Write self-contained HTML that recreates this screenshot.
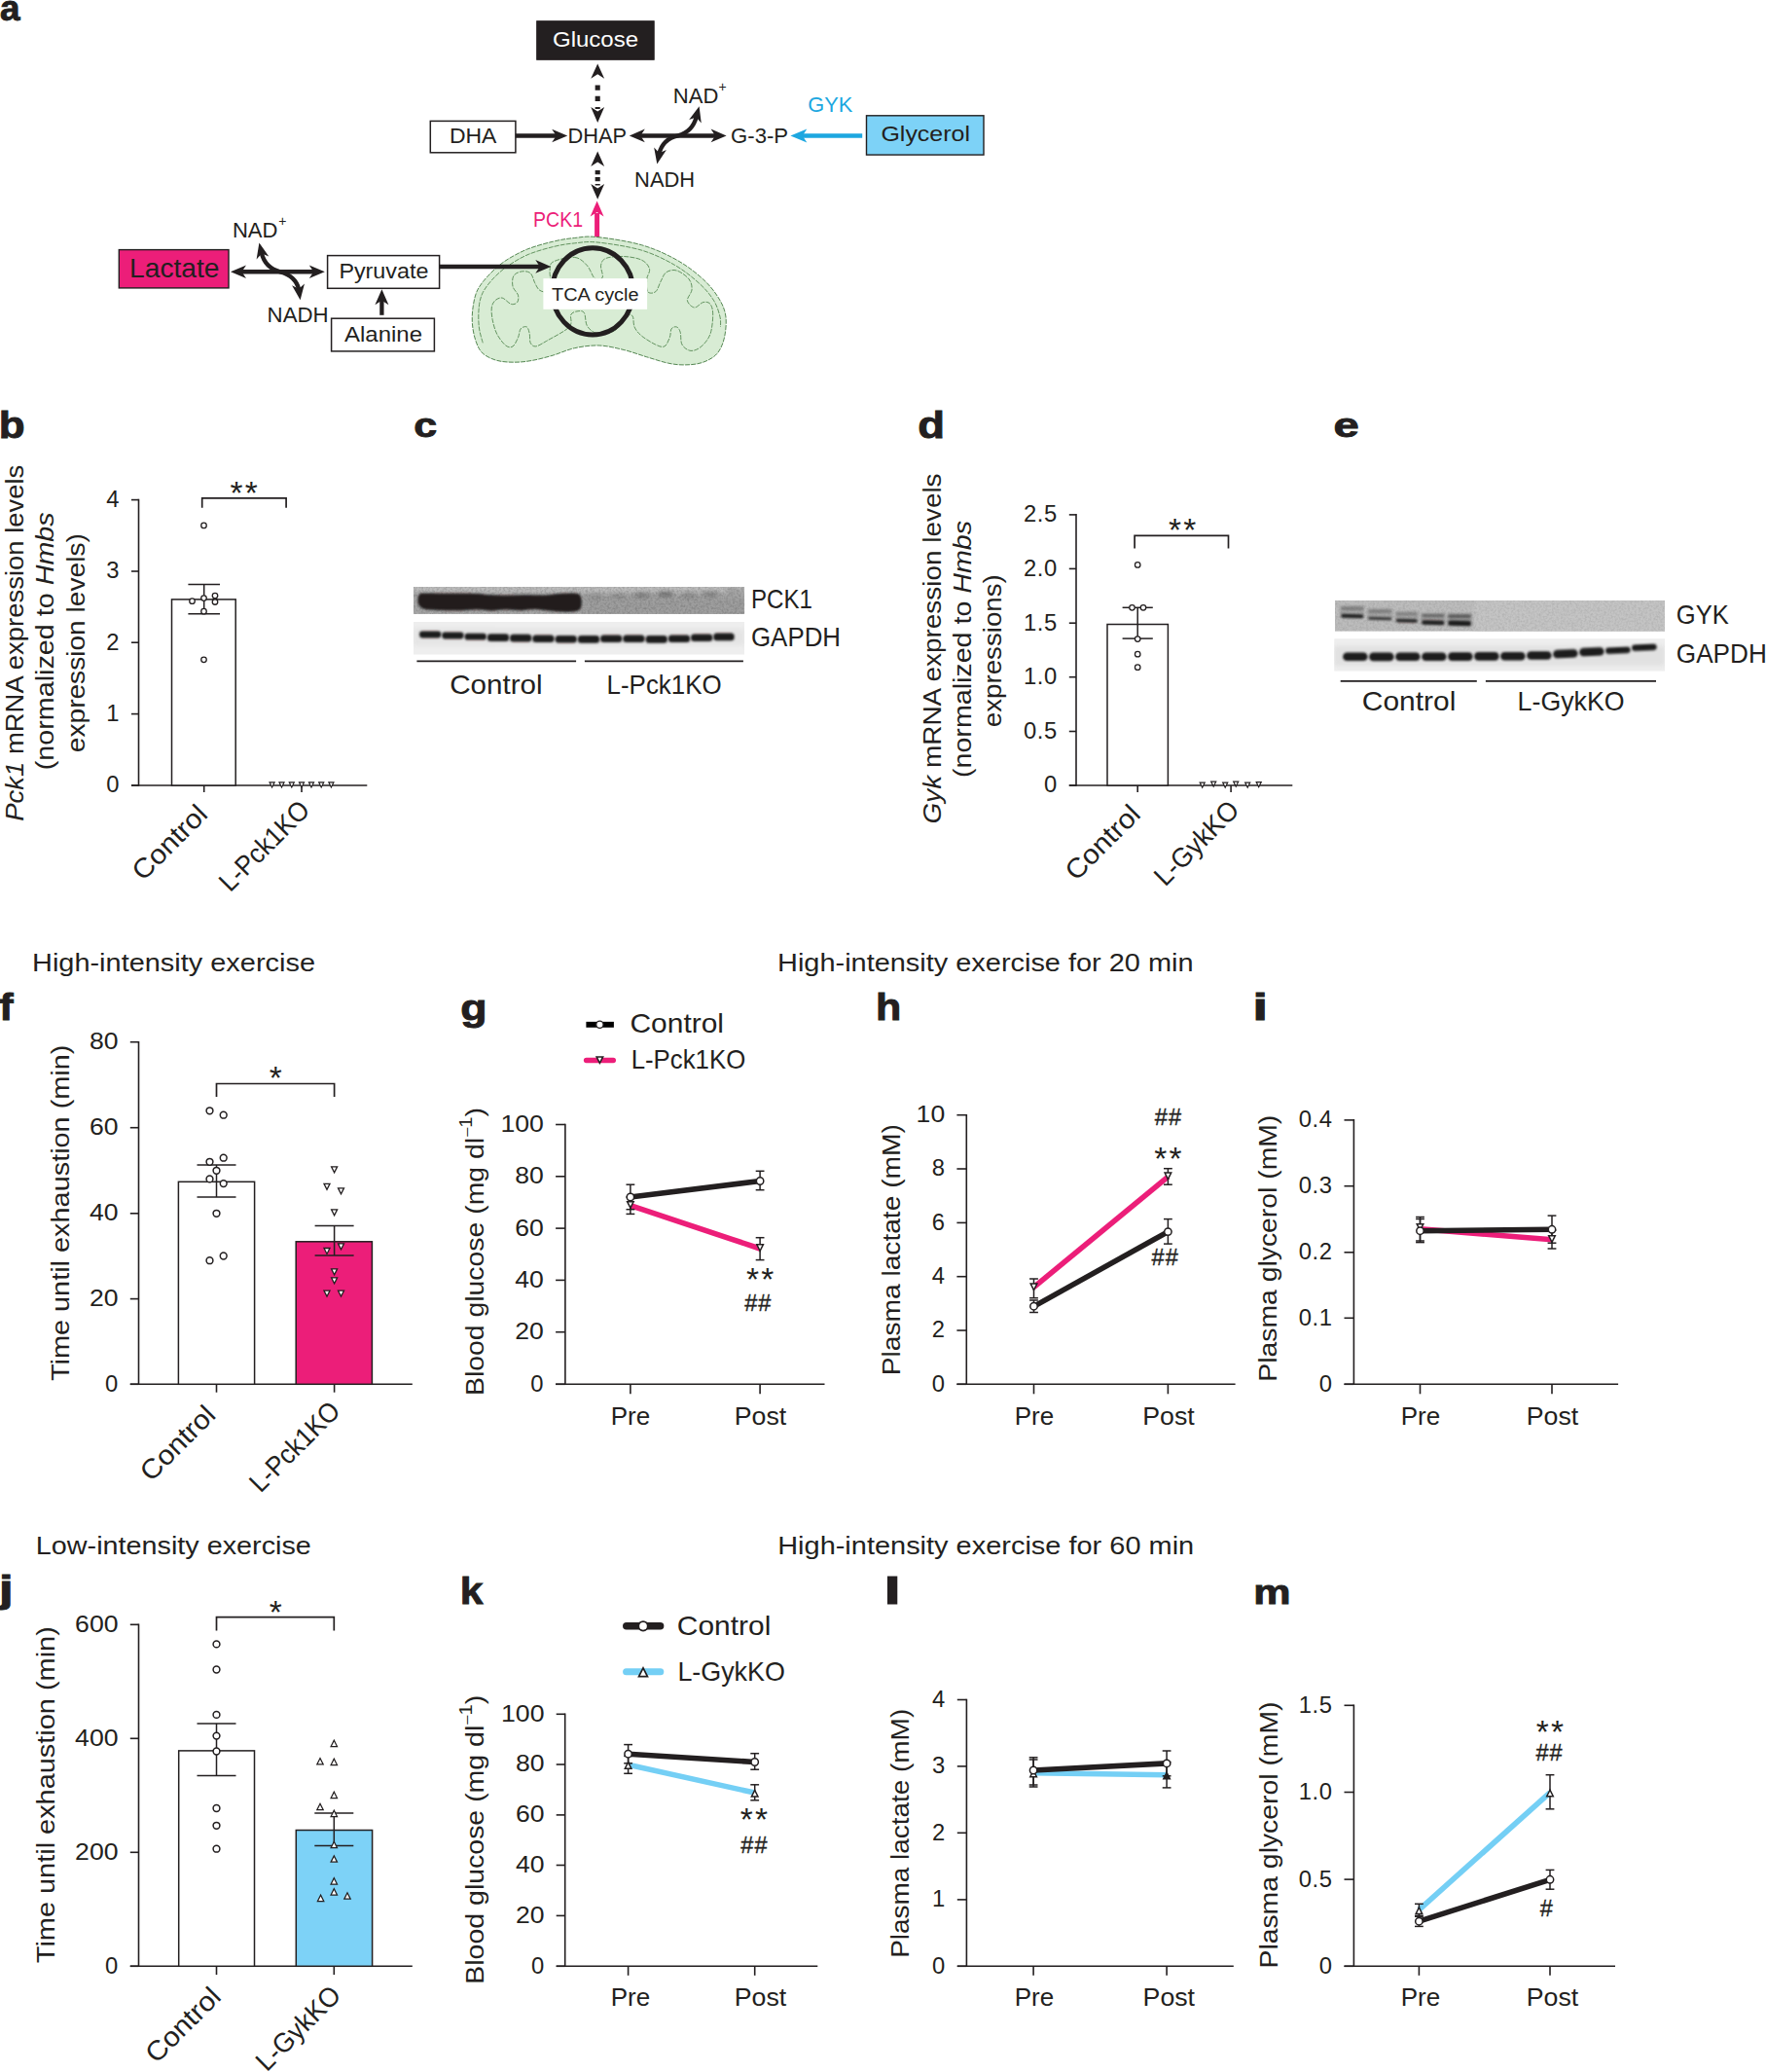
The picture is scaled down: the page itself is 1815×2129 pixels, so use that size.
<!DOCTYPE html>
<html lang="en"><head><meta charset="utf-8"><title>Figure</title>
<style>
html,body{margin:0;padding:0;background:#fff;}
body{width:1815px;height:2129px;overflow:hidden;}
svg{display:block;font-family:'Liberation Sans', Arial, Helvetica, sans-serif;}
</style></head><body>
<svg width="1815" height="2129" viewBox="0 0 1815 2129">
<defs>
<filter id="b1" x="-10%" y="-50%" width="120%" height="200%"><feGaussianBlur stdDeviation="1.2"/></filter>
<filter id="b2" x="-10%" y="-50%" width="120%" height="200%"><feGaussianBlur stdDeviation="2.2"/></filter>
<filter id="b3" x="-10%" y="-50%" width="120%" height="200%"><feGaussianBlur stdDeviation="0.8"/></filter>
<filter id="noise" x="0" y="0" width="100%" height="100%"><feTurbulence type="fractalNoise" baseFrequency="0.45" numOctaves="2" seed="3" result="n"/><feColorMatrix type="matrix" values="0 0 0 0 0  0 0 0 0 0  0 0 0 0 0  0.6 0 0 0 -0.22"/></filter>
<clipPath id="cp1"><rect x="424.9" y="602.9" width="340.3" height="28"/></clipPath>
<clipPath id="cp2"><rect x="424.9" y="639.1" width="340.3" height="33.6"/></clipPath>
<clipPath id="cp3"><rect x="1372" y="617" width="339" height="31.7"/></clipPath>
<clipPath id="cp4"><rect x="1371.2" y="656.2" width="339.8" height="33.5"/></clipPath>
</defs>
<rect width="1815" height="2129" fill="#fff"/>
<text transform="translate(0.08 21.20) scale(1.024 1)" font-size="36" font-weight="bold" fill="#231f20" stroke="#231f20" stroke-width="0.9">a</text>
<rect x="551.70" y="21.70" width="120.50" height="39.60" fill="#231f20" stroke="#231f20" stroke-width="1"/>
<text x="612.00" y="48.30" font-size="22.5" fill="#fff" text-anchor="middle" textLength="88.0" lengthAdjust="spacingAndGlyphs">Glucose</text>
<rect x="442.30" y="124.40" width="87.60" height="32.40" fill="#fff" stroke="#231f20" stroke-width="1.5"/>
<text x="486.20" y="146.80" font-size="22.5" fill="#231f20" text-anchor="middle" textLength="48.5" lengthAdjust="spacingAndGlyphs">DHA</text>
<text x="613.80" y="146.80" font-size="22.5" fill="#231f20" text-anchor="middle" textLength="60.5" lengthAdjust="spacingAndGlyphs">DHAP</text>
<text x="780.60" y="146.80" font-size="22.5" fill="#231f20" text-anchor="middle" textLength="59.0" lengthAdjust="spacingAndGlyphs">G-3-P</text>
<rect x="890.50" y="118.80" width="120.50" height="40.30" fill="#7dd2f7" stroke="#231f20" stroke-width="1.4"/>
<text x="951.20" y="145.30" font-size="22.5" fill="#231f20" text-anchor="middle" textLength="91.5" lengthAdjust="spacingAndGlyphs">Glycerol</text>
<text x="853.30" y="114.90" font-size="22.5" fill="#1da7e0" text-anchor="middle" textLength="46.0" lengthAdjust="spacingAndGlyphs">GYK</text>
<line x1="529.90" y1="139.50" x2="572.00" y2="139.50" stroke="#231f20" stroke-width="4.5" stroke-linecap="butt" />
<polygon points="583.20,139.50 567.20,146.30 571.70,139.50 567.20,132.70" fill="#231f20"/>
<line x1="657.00" y1="139.40" x2="736.00" y2="139.40" stroke="#231f20" stroke-width="4.5" stroke-linecap="butt" />
<polygon points="646.80,139.40 662.80,132.60 658.30,139.40 662.80,146.20" fill="#231f20"/>
<polygon points="746.60,139.40 730.60,146.20 735.10,139.40 730.60,132.60" fill="#231f20"/>
<line x1="886.20" y1="139.50" x2="823.00" y2="139.50" stroke="#1da7e0" stroke-width="4.5" stroke-linecap="butt" />
<polygon points="812.40,139.50 829.30,132.55 824.80,139.50 829.30,146.45" fill="#1da7e0"/>
<path d="M677.3,158.5 C680,146.5 687.5,141.5 696.8,139.4 C706,137 712.8,131.5 715.8,119.8" fill="none" stroke="#231f20" stroke-width="4.4"/>
<polygon points="718.60,109.30 720.74,126.44 715.62,120.41 708.18,123.07" fill="#231f20"/>
<polygon points="675.30,168.40 672.18,151.41 677.63,157.14 684.91,154.05" fill="#231f20"/>
<text x="691.80" y="105.90" font-size="22.5" fill="#231f20" textLength="46.5" lengthAdjust="spacingAndGlyphs">NAD</text>
<text x="738.60" y="94.20" font-size="14" fill="#231f20">+</text>
<text x="652.10" y="192.00" font-size="22.5" fill="#231f20" textLength="62.0" lengthAdjust="spacingAndGlyphs">NADH</text>
<polygon points="614.20,65.60 621.15,80.80 614.20,76.30 607.25,80.80" fill="#231f20"/>
<polygon points="614.20,125.90 607.25,109.90 614.20,114.40 621.15,109.90" fill="#231f20"/>
<line x1="614.20" y1="87.40" x2="614.20" y2="112.00" stroke="#231f20" stroke-width="5.1" stroke-linecap="butt" stroke-dasharray="5.4 5.9"/>
<polygon points="614.20,155.40 621.15,171.10 614.20,166.60 607.25,171.10" fill="#231f20"/>
<polygon points="614.20,204.70 607.25,189.00 614.20,193.50 621.15,189.00" fill="#231f20"/>
<line x1="614.20" y1="175.10" x2="614.20" y2="190.50" stroke="#231f20" stroke-width="5.1" stroke-linecap="butt" stroke-dasharray="4.2 2.7"/>
<line x1="613.60" y1="244.50" x2="613.60" y2="219.00" stroke="#ec1e79" stroke-width="5.0" stroke-linecap="butt" />
<polygon points="613.60,206.40 620.55,222.60 613.60,218.10 606.65,222.60" fill="#ec1e79"/>
<text x="573.60" y="233.20" font-size="22.5" fill="#ec1e79" text-anchor="middle" textLength="51.0" lengthAdjust="spacingAndGlyphs">PCK1</text>
<path d="M614.0,243.6C625.5,244.8 645.7,247.8 659.3,251.7C672.9,255.6 685.0,261.2 695.5,267.1C706.1,273.0 715.5,280.4 722.7,287.0C730.0,293.7 735.2,300.6 739.0,307.0C742.9,313.3 745.0,318.4 745.9,325.1C746.8,331.7 745.9,340.5 744.5,346.8C743.0,353.2 740.8,358.9 737.2,363.1C733.6,367.4 728.2,370.2 722.7,372.2C717.3,374.2 710.6,374.8 704.6,374.9C698.6,375.1 693.1,374.5 686.5,373.1C679.8,371.7 672.3,369.0 664.7,366.8C657.2,364.5 649.3,361.5 641.2,359.5C633.0,357.6 624.3,355.3 615.8,355.0C607.4,354.7 598.3,356.0 590.5,357.7C582.6,359.4 576.0,362.8 568.7,365.0C561.5,367.1 553.6,369.2 547.0,370.4C540.3,371.6 534.9,372.2 528.9,372.2C522.8,372.2 516.2,371.9 510.7,370.4C505.3,368.9 499.9,366.5 496.2,363.1C492.6,359.8 490.8,355.6 489.0,350.5C487.2,345.3 485.8,338.4 485.4,332.3C484.9,326.3 485.4,320.0 486.3,314.2C487.2,308.5 488.2,303.0 490.8,297.9C493.4,292.8 497.1,288.2 501.7,283.4C506.2,278.6 511.3,273.5 518.0,268.9C524.6,264.4 533.1,259.7 541.5,256.2C550.0,252.8 560.6,250.0 568.7,248.1C576.9,246.1 582.9,245.2 590.5,244.5C598.0,243.7 602.5,242.3 614.0,243.6Z" fill="#d8ecd4" stroke="#2f6b2c" stroke-width="0.8" stroke-dasharray="5 1.2"/>
<path d="M496.2,352.3C495.6,349.6 492.9,342.2 492.3,336.0C491.6,329.8 491.6,321.0 492.3,315.1C492.9,309.2 493.9,305.3 496.2,300.6C498.6,295.9 502.0,291.6 506.2,287.0C510.4,282.5 515.4,277.7 521.6,273.5C527.8,269.2 535.3,264.7 543.3,261.3C551.4,258.0 561.8,255.2 569.6,253.3C577.5,251.4 583.1,250.6 590.5,249.9C597.9,249.2 602.5,247.8 614.0,249.0C625.5,250.2 646.0,253.2 659.3,257.1C672.6,261.1 683.8,266.8 693.7,272.5C703.7,278.3 712.5,285.5 719.1,291.6C725.7,297.6 730.1,303.2 733.6,308.8C737.1,314.4 738.8,320.6 739.9,325.1C741.1,329.6 740.4,334.2 740.5,336.0" fill="none" stroke="#2f6b2c" stroke-width="0.7" stroke-dasharray="5 1.2"/>
<path d="M590.5,264.4C596.2,265.0 599.8,269.1 603.1,272.5C606.5,276.0 608.4,282.8 610.4,285.2C612.4,287.6 613.4,287.2 614.9,287.0C616.4,286.9 619.0,286.7 619.4,284.3C619.9,281.9 617.0,275.7 617.6,272.5C618.2,269.4 619.1,266.8 623.1,265.3C627.0,263.8 635.2,263.2 641.2,263.5C647.2,263.8 654.9,265.0 659.3,267.1C663.7,269.2 666.6,272.8 667.5,276.2C668.4,279.5 665.0,283.1 664.7,287.0C664.4,291.0 664.1,297.6 665.7,299.7C667.2,301.8 671.5,301.5 673.8,299.7C676.1,297.9 677.4,292.2 679.2,288.9C681.1,285.5 682.0,281.6 684.7,279.8C687.4,278.0 691.6,276.8 695.5,278.0C699.5,279.2 705.7,283.7 708.2,287.0C710.8,290.4 711.3,294.3 711.0,297.9C710.6,301.5 706.0,305.8 706.4,308.8C706.9,311.8 711.0,315.7 713.7,316.0C716.4,316.3 720.0,311.2 722.7,310.6C725.4,310.0 728.3,310.3 730.0,312.4C731.6,314.5 732.7,318.1 732.7,323.3C732.7,328.4 731.9,337.8 730.0,343.2C728.0,348.6 724.2,353.0 720.9,355.9C717.6,358.8 713.4,360.7 710.0,360.4C706.7,360.1 702.8,357.3 701.0,354.1C699.2,350.9 700.1,344.4 699.2,341.4C698.3,338.4 697.1,336.6 695.5,336.0C694.0,335.4 691.3,336.0 690.1,337.8C688.9,339.6 689.5,343.8 688.3,346.8C687.1,349.9 685.3,354.7 682.9,355.9C680.5,357.1 677.7,355.9 673.8,354.1C669.9,352.3 662.9,348.0 659.3,345.0C655.7,342.0 653.6,339.3 652.1,336.0C650.6,332.6 651.5,327.2 650.3,325.1C649.0,323.0 646.6,322.7 644.8,323.3C643.0,323.9 641.5,326.0 639.4,328.7C637.3,331.4 635.5,337.3 632.1,339.6C628.8,341.9 623.1,342.0 619.4,342.3C615.8,342.6 613.1,342.8 610.4,341.4C607.7,340.0 604.8,337.5 603.1,334.2C601.5,330.8 601.9,323.9 600.4,321.5C598.9,319.1 596.3,319.4 594.1,319.7C591.8,320.0 588.3,320.6 586.8,323.3C585.3,326.0 589.3,331.4 585.0,336.0C580.8,340.5 567.2,347.1 561.5,350.5C555.7,353.8 553.3,355.6 550.6,355.9C547.9,356.2 546.2,354.4 545.2,352.3C544.1,350.2 544.9,345.9 544.3,343.2C543.7,340.5 543.0,336.9 541.5,336.0C540.0,335.1 536.7,336.0 535.2,337.8C533.7,339.6 533.8,343.8 532.5,346.8C531.1,349.9 529.2,354.5 527.0,355.9C524.9,357.3 522.5,357.1 519.8,355.0C517.1,352.9 513.0,347.6 510.7,343.2C508.5,338.8 507.1,333.2 506.2,328.7C505.3,324.2 504.8,319.4 505.3,316.0C505.8,312.7 507.1,310.4 508.9,308.8C510.7,307.1 513.5,305.5 516.2,306.1C518.9,306.7 522.7,311.7 525.2,312.4C527.8,313.2 530.4,312.1 531.6,310.6C532.8,309.1 533.2,306.1 532.5,303.3C531.7,300.6 527.8,297.6 527.0,294.3C526.3,291.0 526.4,286.0 527.9,283.4C529.5,280.9 533.2,279.3 536.1,278.9C539.0,278.4 542.9,278.7 545.2,280.7C547.4,282.7 548.2,287.8 549.7,290.7C551.2,293.5 552.3,296.4 554.2,297.9C556.2,299.4 559.5,300.6 561.5,299.7C563.4,298.8 565.4,296.1 566.0,292.5C566.6,288.9 564.6,281.9 565.1,278.0C565.5,274.1 564.5,271.2 568.7,268.9C572.9,266.7 584.7,263.8 590.5,264.4Z" fill="none" stroke="#2f6b2c" stroke-width="0.7" stroke-dasharray="5 1.2"/>
<ellipse cx="609.1" cy="299.3" rx="41.7" ry="44.6" fill="none" stroke="#231f20" stroke-width="5"/>
<rect x="558.40" y="286.10" width="106.70" height="31.70" fill="#fff" />
<text x="611.80" y="308.50" font-size="18.3" fill="#231f20" text-anchor="middle" textLength="89.5" lengthAdjust="spacingAndGlyphs">TCA cycle</text>
<line x1="451.60" y1="273.90" x2="555.00" y2="273.90" stroke="#231f20" stroke-width="4.5" stroke-linecap="butt" />
<polygon points="566.30,273.90 550.30,280.70 554.80,273.90 550.30,267.10" fill="#231f20"/>
<rect x="122.30" y="256.60" width="112.70" height="39.30" fill="#ec1e79" stroke="#231f20" stroke-width="1.4"/>
<text x="179.30" y="285.20" font-size="27.5" fill="#231f20" text-anchor="middle" textLength="92.5" lengthAdjust="spacingAndGlyphs">Lactate</text>
<line x1="247.00" y1="279.20" x2="323.00" y2="279.20" stroke="#231f20" stroke-width="4.5" stroke-linecap="butt" />
<polygon points="237.00,279.20 253.00,272.40 248.50,279.20 253.00,286.00" fill="#231f20"/>
<polygon points="333.80,279.20 317.80,286.00 322.30,279.20 317.80,272.40" fill="#231f20"/>
<path d="M268.8,260 C271.5,271 278.5,276.8 288,279.3 C297.5,281.8 304.6,286.5 307.2,297.4" fill="none" stroke="#231f20" stroke-width="4.4"/>
<polygon points="266.40,249.40 276.28,263.56 268.95,260.61 263.61,266.44" fill="#231f20"/>
<polygon points="308.60,308.20 300.07,293.19 307.10,296.80 312.96,291.49" fill="#231f20"/>
<text x="238.90" y="244.40" font-size="22.5" fill="#231f20" textLength="46.5" lengthAdjust="spacingAndGlyphs">NAD</text>
<text x="286.20" y="232.20" font-size="14" fill="#231f20">+</text>
<text x="274.60" y="330.60" font-size="22.5" fill="#231f20" textLength="63.0" lengthAdjust="spacingAndGlyphs">NADH</text>
<rect x="336.60" y="262.60" width="115.00" height="33.70" fill="#fff" stroke="#231f20" stroke-width="1.5"/>
<text x="394.40" y="286.40" font-size="22.5" fill="#231f20" text-anchor="middle" textLength="92.0" lengthAdjust="spacingAndGlyphs">Pyruvate</text>
<rect x="340.60" y="327.20" width="105.80" height="33.70" fill="#fff" stroke="#231f20" stroke-width="1.5"/>
<text x="394.00" y="351.40" font-size="22.5" fill="#231f20" text-anchor="middle" textLength="80.0" lengthAdjust="spacingAndGlyphs">Alanine</text>
<line x1="392.40" y1="323.80" x2="392.40" y2="308.00" stroke="#231f20" stroke-width="4.3" stroke-linecap="butt" />
<polygon points="392.40,297.20 399.40,313.20 392.40,308.70 385.40,313.20" fill="#231f20"/>
<text transform="translate(-1.14 449.60) scale(1.157 1)" font-size="38" font-weight="bold" fill="#231f20" stroke="#231f20" stroke-width="0.9">b</text>
<line x1="142.50" y1="512.80" x2="142.50" y2="807.80" stroke="#231f20" stroke-width="1.6" stroke-linecap="butt" />
<line x1="135.00" y1="513.60" x2="142.50" y2="513.60" stroke="#231f20" stroke-width="1.6" stroke-linecap="butt" />
<text x="122.50" y="521.00" font-size="23.8" fill="#231f20" text-anchor="end">4</text>
<line x1="135.00" y1="587.00" x2="142.50" y2="587.00" stroke="#231f20" stroke-width="1.6" stroke-linecap="butt" />
<text x="122.50" y="594.40" font-size="23.8" fill="#231f20" text-anchor="end">3</text>
<line x1="135.00" y1="660.20" x2="142.50" y2="660.20" stroke="#231f20" stroke-width="1.6" stroke-linecap="butt" />
<text x="122.50" y="667.60" font-size="23.8" fill="#231f20" text-anchor="end">2</text>
<line x1="135.00" y1="733.60" x2="142.50" y2="733.60" stroke="#231f20" stroke-width="1.6" stroke-linecap="butt" />
<text x="122.50" y="741.00" font-size="23.8" fill="#231f20" text-anchor="end">1</text>
<line x1="135.00" y1="807.00" x2="142.50" y2="807.00" stroke="#231f20" stroke-width="1.6" stroke-linecap="butt" />
<text x="122.50" y="814.40" font-size="23.8" fill="#231f20" text-anchor="end">0</text>
<line x1="135.00" y1="807.00" x2="377.30" y2="807.00" stroke="#231f20" stroke-width="1.6" stroke-linecap="butt" />
<line x1="209.70" y1="807.00" x2="209.70" y2="814.00" stroke="#231f20" stroke-width="1.6" stroke-linecap="butt" />
<line x1="310.00" y1="807.00" x2="310.00" y2="814.00" stroke="#231f20" stroke-width="1.6" stroke-linecap="butt" />
<rect x="176.50" y="615.90" width="65.70" height="191.10" fill="#fff" stroke="#231f20" stroke-width="1.5"/>
<line x1="209.70" y1="600.60" x2="209.70" y2="630.70" stroke="#231f20" stroke-width="1.5" stroke-linecap="butt" />
<line x1="193.40" y1="600.60" x2="226.00" y2="600.60" stroke="#231f20" stroke-width="1.5" stroke-linecap="butt" />
<line x1="193.40" y1="630.70" x2="226.00" y2="630.70" stroke="#231f20" stroke-width="1.5" stroke-linecap="butt" />
<circle cx="209.50" cy="539.90" r="2.75" fill="#fff" stroke="#231f20" stroke-width="1.3"/>
<circle cx="197.50" cy="617.70" r="2.75" fill="#fff" stroke="#231f20" stroke-width="1.3"/>
<circle cx="209.50" cy="614.60" r="2.75" fill="#fff" stroke="#231f20" stroke-width="1.3"/>
<circle cx="221.00" cy="612.10" r="2.75" fill="#fff" stroke="#231f20" stroke-width="1.3"/>
<circle cx="221.00" cy="618.50" r="2.75" fill="#fff" stroke="#231f20" stroke-width="1.3"/>
<circle cx="209.50" cy="628.20" r="2.75" fill="#fff" stroke="#231f20" stroke-width="1.3"/>
<circle cx="209.50" cy="677.80" r="2.75" fill="#fff" stroke="#231f20" stroke-width="1.3"/>
<polygon points="277.10,803.97 282.10,803.97 279.60,808.92" fill="#fff" stroke="#231f20" stroke-width="1.2" stroke-linejoin="miter"/>
<polygon points="287.00,803.97 292.00,803.97 289.50,808.92" fill="#fff" stroke="#231f20" stroke-width="1.2" stroke-linejoin="miter"/>
<polygon points="297.30,803.97 302.30,803.97 299.80,808.92" fill="#fff" stroke="#231f20" stroke-width="1.2" stroke-linejoin="miter"/>
<polygon points="307.50,803.97 312.50,803.97 310.00,808.92" fill="#fff" stroke="#231f20" stroke-width="1.2" stroke-linejoin="miter"/>
<polygon points="317.50,803.97 322.50,803.97 320.00,808.92" fill="#fff" stroke="#231f20" stroke-width="1.2" stroke-linejoin="miter"/>
<polygon points="327.70,803.97 332.70,803.97 330.20,808.92" fill="#fff" stroke="#231f20" stroke-width="1.2" stroke-linejoin="miter"/>
<polygon points="337.90,803.97 342.90,803.97 340.40,808.92" fill="#fff" stroke="#231f20" stroke-width="1.2" stroke-linejoin="miter"/>
<path d="M207.7,521.8V511.8H294.1V521.8" fill="none" stroke="#231f20" stroke-width="1.7"/>
<text x="251.70" y="517.99" font-size="33.5" fill="#231f20" text-anchor="middle" letter-spacing="2.2">**</text>
<text x="24.30" y="660.70" font-size="26" fill="#231f20" text-anchor="middle" transform="rotate(-90 24.30 660.70)" textLength="366.0" lengthAdjust="spacingAndGlyphs"><tspan font-style="italic">Pck1</tspan> mRNA expression levels</text>
<text x="55.00" y="658.80" font-size="26" fill="#231f20" text-anchor="middle" transform="rotate(-90 55.00 658.80)" textLength="265.0" lengthAdjust="spacingAndGlyphs">(normalized to <tspan font-style="italic">Hmbs</tspan></text>
<text x="87.00" y="660.70" font-size="26" fill="#231f20" text-anchor="middle" transform="rotate(-90 87.00 660.70)" textLength="225.0" lengthAdjust="spacingAndGlyphs">expression levels)</text>
<text x="215.00" y="838.30" font-size="28" fill="#231f20" text-anchor="end" transform="rotate(-45 215.00 838.30)" textLength="96.0" lengthAdjust="spacingAndGlyphs">Control</text>
<text x="320.00" y="834.00" font-size="28" fill="#231f20" text-anchor="end" transform="rotate(-45 320.00 834.00)" textLength="118.0" lengthAdjust="spacingAndGlyphs">L-Pck1KO</text>
<text transform="translate(425.35 448.60) scale(1.193 1)" font-size="36" font-weight="bold" fill="#231f20" stroke="#231f20" stroke-width="0.9">c</text>
<g clip-path="url(#cp1)">
<rect x="424.70" y="602.80" width="340.50" height="28.10" fill="#a6a6a6" />
<rect x="424.7" y="601" width="340.5" height="8" fill="#c4c4c4" opacity="0.8" filter="url(#b2)"/>
<rect x="600" y="614" width="166" height="18" fill="#9c9c9c" opacity="0.7" filter="url(#b2)"/>
<rect x="424.7" y="602.8" width="340.5" height="28.1" filter="url(#noise)" opacity="0.55"/>
<path d="M429.5,618.0C429.3,616.1 429.4,612.9 430.5,611.5C431.6,610.1 431.1,609.9 436.0,609.6C440.9,609.3 451.0,609.7 460.0,609.8C469.0,609.9 483.3,609.8 490.0,610.0C496.7,610.2 495.0,610.7 500.0,611.0C505.0,611.3 513.3,611.8 520.0,611.8C526.7,611.8 533.3,611.2 540.0,611.2C546.7,611.2 554.2,611.7 560.0,611.5C565.8,611.3 570.0,610.3 575.0,610.0C580.0,609.7 586.5,609.4 590.0,609.6C593.5,609.9 594.7,610.1 596.0,611.5C597.3,612.9 597.7,615.7 597.8,618.0C597.9,620.3 597.8,623.8 596.5,625.5C595.2,627.2 593.6,627.8 590.0,628.3C586.4,628.8 580.0,628.8 575.0,628.6C570.0,628.4 564.5,627.4 560.0,627.0C555.5,626.6 552.2,626.0 548.0,626.0C543.8,626.0 539.7,627.2 535.0,627.2C530.3,627.2 525.0,626.2 520.0,626.2C515.0,626.2 510.0,627.4 505.0,627.4C500.0,627.4 495.8,626.2 490.0,626.2C484.2,626.2 476.7,627.2 470.0,627.3C463.3,627.4 455.5,627.2 450.0,627.0C444.5,626.8 440.1,626.7 437.0,626.0C433.9,625.3 432.8,624.3 431.5,623.0C430.2,621.7 429.7,619.9 429.5,618.0Z" fill="#211e1f" filter="url(#b3)"/>
<ellipse cx="612" cy="613" rx="9" ry="2.6" fill="#333" opacity="0.18" filter="url(#b2)"/>
<ellipse cx="636" cy="612.5" rx="9" ry="2.6" fill="#333" opacity="0.2" filter="url(#b2)"/>
<ellipse cx="660" cy="611.5" rx="9" ry="2.6" fill="#333" opacity="0.38" filter="url(#b2)"/>
<ellipse cx="684" cy="610.5" rx="9" ry="2.6" fill="#333" opacity="0.5" filter="url(#b2)"/>
<ellipse cx="708" cy="611.5" rx="9" ry="2.6" fill="#333" opacity="0.26" filter="url(#b2)"/>
<ellipse cx="730" cy="610.5" rx="9" ry="2.6" fill="#333" opacity="0.36" filter="url(#b2)"/>
<ellipse cx="754" cy="607" rx="9" ry="2.6" fill="#333" opacity="0.22" filter="url(#b2)"/>
</g>
<g clip-path="url(#cp2)">
<rect x="424.70" y="638.90" width="340.50" height="33.80" fill="#eeeeee" />
<rect x="424.7" y="646" width="340.5" height="17" fill="#e2e2e2" opacity="0.8" filter="url(#b2)"/>
<rect x="431.0" y="648.6" width="22.4" height="6.8" rx="3.1" fill="#1e1b1c" filter="url(#b3)"/>
<rect x="454.2" y="649.6" width="22.4" height="6.8" rx="3.1" fill="#1e1b1c" filter="url(#b3)"/>
<rect x="477.5" y="650.7" width="22.4" height="6.8" rx="3.1" fill="#1e1b1c" filter="url(#b3)"/>
<rect x="500.8" y="651.3" width="22.4" height="7.6" rx="3.5" fill="#1e1b1c" filter="url(#b3)"/>
<rect x="524.0" y="651.8" width="22.4" height="7.6" rx="3.5" fill="#1e1b1c" filter="url(#b3)"/>
<rect x="547.2" y="652.5" width="22.4" height="7.6" rx="3.5" fill="#1e1b1c" filter="url(#b3)"/>
<rect x="570.5" y="652.9" width="22.4" height="7.6" rx="3.5" fill="#1e1b1c" filter="url(#b3)"/>
<rect x="593.8" y="653.1" width="22.4" height="7.6" rx="3.5" fill="#1e1b1c" filter="url(#b3)"/>
<rect x="617.0" y="652.4" width="22.4" height="7.6" rx="3.5" fill="#1e1b1c" filter="url(#b3)"/>
<rect x="640.2" y="652.4" width="22.4" height="7.6" rx="3.5" fill="#1e1b1c" filter="url(#b3)"/>
<rect x="663.5" y="653.1" width="22.4" height="7.6" rx="3.5" fill="#1e1b1c" filter="url(#b3)"/>
<rect x="686.8" y="652.4" width="22.4" height="7.6" rx="3.5" fill="#1e1b1c" filter="url(#b3)"/>
<rect x="710.0" y="651.4" width="22.4" height="7.6" rx="3.5" fill="#1e1b1c" filter="url(#b3)"/>
<rect x="733.2" y="650.6" width="21.5" height="7.6" rx="3.5" fill="#1e1b1c" filter="url(#b3)"/>
</g>
<line x1="428.40" y1="679.30" x2="592.10" y2="679.30" stroke="#231f20" stroke-width="1.8" stroke-linecap="butt" />
<line x1="600.90" y1="679.30" x2="763.90" y2="679.30" stroke="#231f20" stroke-width="1.8" stroke-linecap="butt" />
<text x="509.90" y="713.00" font-size="28" fill="#231f20" text-anchor="middle" textLength="95.5" lengthAdjust="spacingAndGlyphs">Control</text>
<text x="682.60" y="713.00" font-size="28" fill="#231f20" text-anchor="middle" textLength="118.0" lengthAdjust="spacingAndGlyphs">L-Pck1KO</text>
<text x="772.00" y="625.00" font-size="28" fill="#231f20" textLength="63.0" lengthAdjust="spacingAndGlyphs">PCK1</text>
<text x="772.00" y="663.90" font-size="28" fill="#231f20" textLength="92.0" lengthAdjust="spacingAndGlyphs">GAPDH</text>
<text transform="translate(943.34 449.60) scale(1.195 1)" font-size="38" font-weight="bold" fill="#231f20" stroke="#231f20" stroke-width="0.9">d</text>
<line x1="1106.00" y1="528.10" x2="1106.00" y2="807.80" stroke="#231f20" stroke-width="1.6" stroke-linecap="butt" />
<line x1="1098.80" y1="528.90" x2="1106.00" y2="528.90" stroke="#231f20" stroke-width="1.6" stroke-linecap="butt" />
<text x="1086.90" y="536.30" font-size="23.8" fill="#231f20" text-anchor="end" letter-spacing="0.6">2.5</text>
<line x1="1098.80" y1="584.40" x2="1106.00" y2="584.40" stroke="#231f20" stroke-width="1.6" stroke-linecap="butt" />
<text x="1086.90" y="591.80" font-size="23.8" fill="#231f20" text-anchor="end" letter-spacing="0.6">2.0</text>
<line x1="1098.80" y1="640.20" x2="1106.00" y2="640.20" stroke="#231f20" stroke-width="1.6" stroke-linecap="butt" />
<text x="1086.90" y="647.60" font-size="23.8" fill="#231f20" text-anchor="end" letter-spacing="0.6">1.5</text>
<line x1="1098.80" y1="695.70" x2="1106.00" y2="695.70" stroke="#231f20" stroke-width="1.6" stroke-linecap="butt" />
<text x="1086.90" y="703.10" font-size="23.8" fill="#231f20" text-anchor="end" letter-spacing="0.6">1.0</text>
<line x1="1098.80" y1="751.50" x2="1106.00" y2="751.50" stroke="#231f20" stroke-width="1.6" stroke-linecap="butt" />
<text x="1086.90" y="758.90" font-size="23.8" fill="#231f20" text-anchor="end" letter-spacing="0.6">0.5</text>
<line x1="1098.80" y1="807.00" x2="1106.00" y2="807.00" stroke="#231f20" stroke-width="1.6" stroke-linecap="butt" />
<text x="1086.30" y="814.40" font-size="23.8" fill="#231f20" text-anchor="end">0</text>
<line x1="1098.80" y1="807.00" x2="1328.30" y2="807.00" stroke="#231f20" stroke-width="1.6" stroke-linecap="butt" />
<line x1="1169.20" y1="807.00" x2="1169.20" y2="814.00" stroke="#231f20" stroke-width="1.6" stroke-linecap="butt" />
<line x1="1265.10" y1="807.00" x2="1265.10" y2="814.00" stroke="#231f20" stroke-width="1.6" stroke-linecap="butt" />
<rect x="1138.00" y="641.50" width="62.40" height="165.50" fill="#fff" stroke="#231f20" stroke-width="1.5"/>
<line x1="1169.20" y1="624.30" x2="1169.20" y2="656.10" stroke="#231f20" stroke-width="1.5" stroke-linecap="butt" />
<line x1="1153.60" y1="624.30" x2="1184.80" y2="624.30" stroke="#231f20" stroke-width="1.5" stroke-linecap="butt" />
<line x1="1153.60" y1="656.10" x2="1184.80" y2="656.10" stroke="#231f20" stroke-width="1.5" stroke-linecap="butt" />
<circle cx="1169.20" cy="580.40" r="2.75" fill="#fff" stroke="#231f20" stroke-width="1.3"/>
<circle cx="1163.50" cy="624.30" r="2.75" fill="#fff" stroke="#231f20" stroke-width="1.3"/>
<circle cx="1175.00" cy="624.30" r="2.75" fill="#fff" stroke="#231f20" stroke-width="1.3"/>
<circle cx="1169.20" cy="656.60" r="2.75" fill="#fff" stroke="#231f20" stroke-width="1.3"/>
<circle cx="1169.20" cy="672.20" r="2.75" fill="#fff" stroke="#231f20" stroke-width="1.3"/>
<circle cx="1169.20" cy="685.70" r="2.75" fill="#fff" stroke="#231f20" stroke-width="1.3"/>
<polygon points="1233.20,804.17 1238.20,804.17 1235.70,809.12" fill="#fff" stroke="#231f20" stroke-width="1.2" stroke-linejoin="miter"/>
<polygon points="1244.70,803.17 1249.70,803.17 1247.20,808.12" fill="#fff" stroke="#231f20" stroke-width="1.2" stroke-linejoin="miter"/>
<polygon points="1256.70,804.17 1261.70,804.17 1259.20,809.12" fill="#fff" stroke="#231f20" stroke-width="1.2" stroke-linejoin="miter"/>
<polygon points="1267.70,803.17 1272.70,803.17 1270.20,808.12" fill="#fff" stroke="#231f20" stroke-width="1.2" stroke-linejoin="miter"/>
<polygon points="1279.70,804.17 1284.70,804.17 1282.20,809.12" fill="#fff" stroke="#231f20" stroke-width="1.2" stroke-linejoin="miter"/>
<polygon points="1291.20,803.67 1296.20,803.67 1293.70,808.62" fill="#fff" stroke="#231f20" stroke-width="1.2" stroke-linejoin="miter"/>
<path d="M1166.1,563.4V550.4H1262.5V563.4" fill="none" stroke="#231f20" stroke-width="1.7"/>
<text x="1216.30" y="556.19" font-size="33.5" fill="#231f20" text-anchor="middle" letter-spacing="2.2">**</text>
<text x="966.60" y="666.40" font-size="26" fill="#231f20" text-anchor="middle" transform="rotate(-90 966.60 666.40)" textLength="360.0" lengthAdjust="spacingAndGlyphs"><tspan font-style="italic">Gyk</tspan> mRNA expression levels</text>
<text x="998.00" y="667.00" font-size="26" fill="#231f20" text-anchor="middle" transform="rotate(-90 998.00 667.00)" textLength="264.0" lengthAdjust="spacingAndGlyphs">(normalized to <tspan font-style="italic">Hmbs</tspan></text>
<text x="1029.40" y="668.70" font-size="26" fill="#231f20" text-anchor="middle" transform="rotate(-90 1029.40 668.70)" textLength="157.0" lengthAdjust="spacingAndGlyphs">expressions)</text>
<text x="1173.80" y="838.30" font-size="28" fill="#231f20" text-anchor="end" transform="rotate(-45 1173.80 838.30)" textLength="96.0" lengthAdjust="spacingAndGlyphs">Control</text>
<text x="1275.20" y="834.00" font-size="28" fill="#231f20" text-anchor="end" transform="rotate(-45 1275.20 834.00)" textLength="110.0" lengthAdjust="spacingAndGlyphs">L-GykKO</text>
<text transform="translate(1370.49 448.80) scale(1.311 1)" font-size="36" font-weight="bold" fill="#231f20" stroke="#231f20" stroke-width="0.9">e</text>
<g clip-path="url(#cp3)">
<rect x="1371.90" y="616.90" width="339.10" height="31.90" fill="#bcbcbc" />
<rect x="1515" y="615" width="200" height="36" fill="#c6c6c6" opacity="0.8" filter="url(#b2)"/>
<rect x="1371.9" y="616.9" width="339.1" height="31.9" filter="url(#noise)" opacity="0.3"/>
<rect x="1377.3" y="622.3" width="24.9" height="12.6" fill="#777" opacity="0.34" filter="url(#b1)"/>
<rect x="1378.3" y="623.6" width="22.9" height="3.4" rx="1.7" fill="#3a3a3a" opacity="0.35" filter="url(#b1)"/>
<rect x="1378.3" y="630.9" width="22.9" height="4.0" rx="2.0" fill="#1e1b1c" opacity="0.95" filter="url(#b3)" transform="rotate(1.5 1389.8 632.9)"/>
<rect x="1405.3" y="625.1" width="25.9" height="12.4" fill="#777" opacity="0.34" filter="url(#b1)"/>
<rect x="1406.3" y="626.4" width="23.9" height="3.4" rx="1.7" fill="#3a3a3a" opacity="0.35" filter="url(#b1)"/>
<rect x="1406.3" y="634.0" width="23.9" height="3.0" rx="1.5" fill="#1e1b1c" opacity="0.75" filter="url(#b3)" transform="rotate(1.5 1418.2 635.5)"/>
<rect x="1433.8" y="627.9" width="23.9" height="11.8" fill="#777" opacity="0.33" filter="url(#b1)"/>
<rect x="1434.8" y="629.2" width="21.9" height="3.4" rx="1.7" fill="#3a3a3a" opacity="0.30" filter="url(#b1)"/>
<rect x="1434.8" y="635.9" width="21.9" height="3.6" rx="1.8" fill="#1e1b1c" opacity="0.92" filter="url(#b3)" transform="rotate(1.5 1445.8 637.7)"/>
<rect x="1460.3" y="629.6" width="25.0" height="12.2" fill="#777" opacity="0.40" filter="url(#b1)"/>
<rect x="1461.3" y="630.9" width="23.0" height="3.4" rx="1.7" fill="#3a3a3a" opacity="0.50" filter="url(#b1)"/>
<rect x="1461.3" y="637.6" width="23.0" height="4.4" rx="2.2" fill="#1e1b1c" opacity="0.97" filter="url(#b3)" transform="rotate(1.5 1472.8 639.8)"/>
<rect x="1487.3" y="630.2" width="25.5" height="12.2" fill="#777" opacity="0.45" filter="url(#b1)"/>
<rect x="1488.3" y="631.5" width="23.5" height="3.4" rx="1.7" fill="#3a3a3a" opacity="0.65" filter="url(#b1)"/>
<rect x="1488.3" y="637.7" width="23.5" height="5.4" rx="2.7" fill="#1e1b1c" opacity="1.00" filter="url(#b3)" transform="rotate(1.5 1500.0 640.4)"/>
</g>
<g clip-path="url(#cp4)">
<rect x="1371.10" y="656.10" width="339.90" height="33.70" fill="#eeeeee" />
<rect x="1371.1" y="664" width="339.9" height="20" fill="#dedede" opacity="0.8" filter="url(#b2)"/>
<rect x="1380.1" y="670.4" width="25.5" height="8.6" rx="4.3" fill="#1c1a1b" filter="url(#b3)" transform="rotate(0 1392.8 674.7)"/>
<rect x="1407.1" y="670.6" width="25.5" height="8.6" rx="4.3" fill="#1c1a1b" filter="url(#b3)" transform="rotate(0 1419.8 674.9)"/>
<rect x="1434.1" y="670.4" width="25.5" height="8.6" rx="4.3" fill="#1c1a1b" filter="url(#b3)" transform="rotate(0 1446.8 674.7)"/>
<rect x="1461.1" y="670.4" width="25.5" height="8.6" rx="4.3" fill="#1c1a1b" filter="url(#b3)" transform="rotate(0 1473.8 674.7)"/>
<rect x="1488.1" y="670.3" width="25.5" height="8.6" rx="4.3" fill="#1c1a1b" filter="url(#b3)" transform="rotate(0 1500.8 674.6)"/>
<rect x="1515.1" y="670.1" width="25.5" height="8.6" rx="4.3" fill="#1c1a1b" filter="url(#b3)" transform="rotate(0 1527.8 674.4)"/>
<rect x="1542.1" y="670.0" width="25.5" height="8.6" rx="4.3" fill="#1c1a1b" filter="url(#b3)" transform="rotate(0 1554.8 674.3)"/>
<rect x="1569.1" y="669.2" width="25.5" height="8.6" rx="4.3" fill="#1c1a1b" filter="url(#b3)" transform="rotate(0 1581.8 673.5)"/>
<rect x="1596.1" y="667.4" width="25.5" height="8.6" rx="4.3" fill="#1c1a1b" filter="url(#b3)" transform="rotate(-2.5 1608.8 671.7)"/>
<rect x="1623.1" y="665.4" width="25.5" height="8.6" rx="4.3" fill="#1c1a1b" filter="url(#b3)" transform="rotate(-2.5 1635.8 669.7)"/>
<rect x="1650.1" y="665.1" width="25.5" height="6.5" rx="3.25" fill="#1c1a1b" filter="url(#b3)" transform="rotate(-2.5 1662.8 668.4)"/>
<rect x="1677.1" y="662.1" width="25.5" height="6.5" rx="3.25" fill="#1c1a1b" filter="url(#b3)" transform="rotate(-2.5 1689.8 665.4)"/>
</g>
<line x1="1377.70" y1="699.90" x2="1517.80" y2="699.90" stroke="#231f20" stroke-width="1.8" stroke-linecap="butt" />
<line x1="1526.90" y1="699.90" x2="1702.00" y2="699.90" stroke="#231f20" stroke-width="1.8" stroke-linecap="butt" />
<text x="1448.10" y="729.90" font-size="28" fill="#231f20" text-anchor="middle" textLength="96.5" lengthAdjust="spacingAndGlyphs">Control</text>
<text x="1614.60" y="729.90" font-size="28" fill="#231f20" text-anchor="middle" textLength="110.0" lengthAdjust="spacingAndGlyphs">L-GykKO</text>
<text x="1722.80" y="640.50" font-size="28" fill="#231f20" textLength="54.0" lengthAdjust="spacingAndGlyphs">GYK</text>
<text x="1722.80" y="680.90" font-size="28" fill="#231f20" textLength="93.0" lengthAdjust="spacingAndGlyphs">GAPDH</text>
<text x="33.00" y="998.40" font-size="26.3" fill="#231f20" textLength="291.0" lengthAdjust="spacingAndGlyphs">High-intensity exercise</text>
<text transform="translate(-0.84 1048.40) scale(1.134 1)" font-size="38" font-weight="bold" fill="#231f20" stroke="#231f20" stroke-width="0.9">f</text>
<line x1="142.50" y1="1069.90" x2="142.50" y2="1423.10" stroke="#231f20" stroke-width="1.6" stroke-linecap="butt" />
<line x1="133.80" y1="1070.70" x2="142.50" y2="1070.70" stroke="#231f20" stroke-width="1.6" stroke-linecap="butt" />
<text x="121.60" y="1078.10" font-size="23.8" fill="#231f20" text-anchor="end" textLength="29.6" lengthAdjust="spacingAndGlyphs">80</text>
<line x1="133.80" y1="1158.70" x2="142.50" y2="1158.70" stroke="#231f20" stroke-width="1.6" stroke-linecap="butt" />
<text x="121.60" y="1166.10" font-size="23.8" fill="#231f20" text-anchor="end" textLength="29.6" lengthAdjust="spacingAndGlyphs">60</text>
<line x1="133.80" y1="1246.80" x2="142.50" y2="1246.80" stroke="#231f20" stroke-width="1.6" stroke-linecap="butt" />
<text x="121.60" y="1254.20" font-size="23.8" fill="#231f20" text-anchor="end" textLength="29.6" lengthAdjust="spacingAndGlyphs">40</text>
<line x1="133.80" y1="1334.60" x2="142.50" y2="1334.60" stroke="#231f20" stroke-width="1.6" stroke-linecap="butt" />
<text x="121.60" y="1342.00" font-size="23.8" fill="#231f20" text-anchor="end" textLength="29.6" lengthAdjust="spacingAndGlyphs">20</text>
<line x1="133.80" y1="1422.30" x2="142.50" y2="1422.30" stroke="#231f20" stroke-width="1.6" stroke-linecap="butt" />
<text x="121.30" y="1429.70" font-size="23.8" fill="#231f20" text-anchor="end">0</text>
<line x1="133.80" y1="1422.30" x2="423.80" y2="1422.30" stroke="#231f20" stroke-width="1.6" stroke-linecap="butt" />
<line x1="222.50" y1="1422.30" x2="222.50" y2="1430.70" stroke="#231f20" stroke-width="1.6" stroke-linecap="butt" />
<line x1="343.60" y1="1422.30" x2="343.60" y2="1430.70" stroke="#231f20" stroke-width="1.6" stroke-linecap="butt" />
<rect x="183.40" y="1214.30" width="78.20" height="208.00" fill="#fff" stroke="#231f20" stroke-width="1.5"/>
<rect x="304.20" y="1275.80" width="78.20" height="146.50" fill="#ec1e79" stroke="#231f20" stroke-width="1.5"/>
<line x1="222.50" y1="1197.00" x2="222.50" y2="1230.00" stroke="#231f20" stroke-width="1.5" stroke-linecap="butt" />
<line x1="202.50" y1="1197.00" x2="242.50" y2="1197.00" stroke="#231f20" stroke-width="1.5" stroke-linecap="butt" />
<line x1="202.50" y1="1230.00" x2="242.50" y2="1230.00" stroke="#231f20" stroke-width="1.5" stroke-linecap="butt" />
<line x1="343.60" y1="1259.50" x2="343.60" y2="1290.00" stroke="#231f20" stroke-width="1.5" stroke-linecap="butt" />
<line x1="323.60" y1="1259.50" x2="363.60" y2="1259.50" stroke="#231f20" stroke-width="1.5" stroke-linecap="butt" />
<line x1="323.60" y1="1290.00" x2="363.60" y2="1290.00" stroke="#231f20" stroke-width="1.5" stroke-linecap="butt" />
<circle cx="215.50" cy="1141.30" r="3.4" fill="#fff" stroke="#231f20" stroke-width="1.5"/>
<circle cx="229.70" cy="1145.70" r="3.4" fill="#fff" stroke="#231f20" stroke-width="1.5"/>
<circle cx="229.70" cy="1189.70" r="3.4" fill="#fff" stroke="#231f20" stroke-width="1.5"/>
<circle cx="215.50" cy="1193.80" r="3.4" fill="#fff" stroke="#231f20" stroke-width="1.5"/>
<circle cx="222.50" cy="1202.80" r="3.4" fill="#fff" stroke="#231f20" stroke-width="1.5"/>
<circle cx="215.50" cy="1211.40" r="3.4" fill="#fff" stroke="#231f20" stroke-width="1.5"/>
<circle cx="229.70" cy="1216.10" r="3.4" fill="#fff" stroke="#231f20" stroke-width="1.5"/>
<circle cx="222.50" cy="1246.80" r="3.4" fill="#fff" stroke="#231f20" stroke-width="1.5"/>
<circle cx="229.70" cy="1290.50" r="3.4" fill="#fff" stroke="#231f20" stroke-width="1.5"/>
<circle cx="215.50" cy="1295.20" r="3.4" fill="#fff" stroke="#231f20" stroke-width="1.5"/>
<polygon points="340.60,1198.78 346.60,1198.78 343.60,1204.72" fill="#fff" stroke="#231f20" stroke-width="1.3" stroke-linejoin="miter"/>
<polygon points="333.00,1216.38 339.00,1216.38 336.00,1222.32" fill="#fff" stroke="#231f20" stroke-width="1.3" stroke-linejoin="miter"/>
<polygon points="347.50,1220.78 353.50,1220.78 350.50,1226.72" fill="#fff" stroke="#231f20" stroke-width="1.3" stroke-linejoin="miter"/>
<polygon points="340.60,1242.78 346.60,1242.78 343.60,1248.72" fill="#fff" stroke="#231f20" stroke-width="1.3" stroke-linejoin="miter"/>
<polygon points="347.50,1277.88 353.50,1277.88 350.50,1283.82" fill="#fff" stroke="#231f20" stroke-width="1.3" stroke-linejoin="miter"/>
<polygon points="333.00,1282.48 339.00,1282.48 336.00,1288.42" fill="#fff" stroke="#231f20" stroke-width="1.3" stroke-linejoin="miter"/>
<polygon points="340.60,1303.88 346.60,1303.88 343.60,1309.82" fill="#fff" stroke="#231f20" stroke-width="1.3" stroke-linejoin="miter"/>
<polygon points="340.60,1312.88 346.60,1312.88 343.60,1318.82" fill="#fff" stroke="#231f20" stroke-width="1.3" stroke-linejoin="miter"/>
<polygon points="333.00,1326.18 339.00,1326.18 336.00,1332.12" fill="#fff" stroke="#231f20" stroke-width="1.3" stroke-linejoin="miter"/>
<polygon points="347.50,1326.18 353.50,1326.18 350.50,1332.12" fill="#fff" stroke="#231f20" stroke-width="1.3" stroke-linejoin="miter"/>
<path d="M222.5,1127.1V1113.5H343.6V1127.1" fill="none" stroke="#231f20" stroke-width="1.7"/>
<text x="283.30" y="1119.19" font-size="33.5" fill="#231f20" text-anchor="middle">*</text>
<text x="71.00" y="1246.30" font-size="26" fill="#231f20" text-anchor="middle" transform="rotate(-90 71.00 1246.30)" textLength="345.5" lengthAdjust="spacingAndGlyphs">Time until exhaustion (min)</text>
<text x="223.20" y="1455.60" font-size="28" fill="#231f20" text-anchor="end" transform="rotate(-45 223.20 1455.60)" textLength="96.0" lengthAdjust="spacingAndGlyphs">Control</text>
<text x="351.30" y="1451.40" font-size="28" fill="#231f20" text-anchor="end" transform="rotate(-45 351.30 1451.40)" textLength="118.0" lengthAdjust="spacingAndGlyphs">L-Pck1KO</text>
<text x="1012.80" y="998.40" font-size="26.3" fill="#231f20" text-anchor="middle" textLength="427.5" lengthAdjust="spacingAndGlyphs">High-intensity exercise for 20 min</text>
<text transform="translate(473.17 1048.40) scale(1.239 1)" font-size="36" font-weight="bold" fill="#231f20" stroke="#231f20" stroke-width="0.9">g</text>
<line x1="602.40" y1="1052.80" x2="630.90" y2="1052.80" stroke="#000" stroke-width="5.9" stroke-linecap="butt" />
<circle cx="616.40" cy="1052.80" r="3.65" fill="#fff" stroke="#231f20" stroke-width="1.3"/>
<text x="647.50" y="1060.70" font-size="28" fill="#231f20" textLength="96.5" lengthAdjust="spacingAndGlyphs">Control</text>
<line x1="602.60" y1="1089.50" x2="630.30" y2="1089.50" stroke="#ec1e79" stroke-width="5.4" stroke-linecap="round" />
<polygon points="613.10,1085.88 619.70,1085.88 616.40,1092.42" fill="#fff" stroke="#231f20" stroke-width="1.5" stroke-linejoin="miter"/>
<text x="648.70" y="1097.70" font-size="28" fill="#231f20" textLength="117.5" lengthAdjust="spacingAndGlyphs">L-Pck1KO</text>
<line x1="580.90" y1="1154.70" x2="580.90" y2="1423.10" stroke="#231f20" stroke-width="1.6" stroke-linecap="butt" />
<line x1="571.10" y1="1155.50" x2="580.90" y2="1155.50" stroke="#231f20" stroke-width="1.6" stroke-linecap="butt" />
<text x="558.90" y="1162.90" font-size="23.8" fill="#231f20" text-anchor="end" textLength="44.5" lengthAdjust="spacingAndGlyphs">100</text>
<line x1="571.10" y1="1208.80" x2="580.90" y2="1208.80" stroke="#231f20" stroke-width="1.6" stroke-linecap="butt" />
<text x="558.90" y="1216.20" font-size="23.8" fill="#231f20" text-anchor="end" textLength="29.6" lengthAdjust="spacingAndGlyphs">80</text>
<line x1="571.10" y1="1262.10" x2="580.90" y2="1262.10" stroke="#231f20" stroke-width="1.6" stroke-linecap="butt" />
<text x="558.90" y="1269.50" font-size="23.8" fill="#231f20" text-anchor="end" textLength="29.6" lengthAdjust="spacingAndGlyphs">60</text>
<line x1="571.10" y1="1315.40" x2="580.90" y2="1315.40" stroke="#231f20" stroke-width="1.6" stroke-linecap="butt" />
<text x="558.90" y="1322.80" font-size="23.8" fill="#231f20" text-anchor="end" textLength="29.6" lengthAdjust="spacingAndGlyphs">40</text>
<line x1="571.10" y1="1368.70" x2="580.90" y2="1368.70" stroke="#231f20" stroke-width="1.6" stroke-linecap="butt" />
<text x="558.90" y="1376.10" font-size="23.8" fill="#231f20" text-anchor="end" textLength="29.6" lengthAdjust="spacingAndGlyphs">20</text>
<line x1="571.10" y1="1422.30" x2="580.90" y2="1422.30" stroke="#231f20" stroke-width="1.6" stroke-linecap="butt" />
<text x="558.60" y="1429.70" font-size="23.8" fill="#231f20" text-anchor="end">0</text>
<line x1="571.10" y1="1422.30" x2="847.50" y2="1422.30" stroke="#231f20" stroke-width="1.6" stroke-linecap="butt" />
<line x1="647.90" y1="1422.30" x2="647.90" y2="1432.30" stroke="#231f20" stroke-width="1.6" stroke-linecap="butt" />
<line x1="781.10" y1="1422.30" x2="781.10" y2="1432.30" stroke="#231f20" stroke-width="1.6" stroke-linecap="butt" />
<line x1="647.90" y1="1238.70" x2="781.10" y2="1283.00" stroke="#ec1e79" stroke-width="5.6" stroke-linecap="butt" />
<line x1="647.90" y1="1230.00" x2="781.10" y2="1213.50" stroke="#231f20" stroke-width="5.6" stroke-linecap="butt" />
<line x1="647.90" y1="1217.20" x2="647.90" y2="1242.70" stroke="#231f20" stroke-width="1.5" stroke-linecap="butt" />
<line x1="643.50" y1="1217.20" x2="652.30" y2="1217.20" stroke="#231f20" stroke-width="1.5" stroke-linecap="butt" />
<line x1="643.50" y1="1242.70" x2="652.30" y2="1242.70" stroke="#231f20" stroke-width="1.5" stroke-linecap="butt" />
<line x1="647.90" y1="1230.00" x2="647.90" y2="1247.40" stroke="#231f20" stroke-width="1.5" stroke-linecap="butt" />
<line x1="643.50" y1="1230.00" x2="652.30" y2="1230.00" stroke="#231f20" stroke-width="1.5" stroke-linecap="butt" />
<line x1="643.50" y1="1247.40" x2="652.30" y2="1247.40" stroke="#231f20" stroke-width="1.5" stroke-linecap="butt" />
<line x1="781.10" y1="1203.30" x2="781.10" y2="1222.70" stroke="#231f20" stroke-width="1.5" stroke-linecap="butt" />
<line x1="776.70" y1="1203.30" x2="785.50" y2="1203.30" stroke="#231f20" stroke-width="1.5" stroke-linecap="butt" />
<line x1="776.70" y1="1222.70" x2="785.50" y2="1222.70" stroke="#231f20" stroke-width="1.5" stroke-linecap="butt" />
<line x1="781.10" y1="1271.70" x2="781.10" y2="1294.60" stroke="#231f20" stroke-width="1.5" stroke-linecap="butt" />
<line x1="776.70" y1="1271.70" x2="785.50" y2="1271.70" stroke="#231f20" stroke-width="1.5" stroke-linecap="butt" />
<line x1="776.70" y1="1294.60" x2="785.50" y2="1294.60" stroke="#231f20" stroke-width="1.5" stroke-linecap="butt" />
<polygon points="644.62,1234.70 651.18,1234.70 647.90,1241.20" fill="#fff" stroke="#231f20" stroke-width="1.5" stroke-linejoin="miter"/>
<circle cx="647.90" cy="1230.00" r="3.7" fill="#fff" stroke="#231f20" stroke-width="1.5"/>
<circle cx="781.10" cy="1213.50" r="3.7" fill="#fff" stroke="#231f20" stroke-width="1.5"/>
<polygon points="777.82,1278.80 784.38,1278.80 781.10,1285.30" fill="#fff" stroke="#231f20" stroke-width="1.5" stroke-linejoin="miter"/>
<text x="782.20" y="1326.19" font-size="33.5" fill="#231f20" text-anchor="middle" letter-spacing="2.2">**</text>
<text x="779.35" y="1346.70" font-size="23.5" fill="#231f20" text-anchor="middle" letter-spacing="1.1" stroke="#231f20" stroke-width="0.35">##</text>
<text x="647.90" y="1463.50" font-size="26.6" fill="#231f20" text-anchor="middle" textLength="40.5" lengthAdjust="spacingAndGlyphs">Pre</text>
<text x="781.50" y="1463.50" font-size="26.6" fill="#231f20" text-anchor="middle" textLength="53.5" lengthAdjust="spacingAndGlyphs">Post</text>
<text x="496.90" y="1286.00" font-size="26" fill="#231f20" text-anchor="middle" transform="rotate(-90 496.90 1286.00)" textLength="296.0" lengthAdjust="spacingAndGlyphs">Blood glucose (mg dl<tspan font-size="15" dy="-13.1" dx="1">–</tspan><tspan font-size="18.5" dy="1.2">1</tspan><tspan dy="11.9">)</tspan></text>
<text transform="translate(899.99 1048.40) scale(1.133 1)" font-size="38" font-weight="bold" fill="#231f20" stroke="#231f20" stroke-width="0.9">h</text>
<line x1="993.30" y1="1144.90" x2="993.30" y2="1423.10" stroke="#231f20" stroke-width="1.6" stroke-linecap="butt" />
<line x1="983.40" y1="1145.70" x2="993.30" y2="1145.70" stroke="#231f20" stroke-width="1.6" stroke-linecap="butt" />
<text x="971.20" y="1153.10" font-size="23.8" fill="#231f20" text-anchor="end" textLength="29.6" lengthAdjust="spacingAndGlyphs">10</text>
<line x1="983.40" y1="1201.00" x2="993.30" y2="1201.00" stroke="#231f20" stroke-width="1.6" stroke-linecap="butt" />
<text x="970.90" y="1208.40" font-size="23.8" fill="#231f20" text-anchor="end">8</text>
<line x1="983.40" y1="1256.40" x2="993.30" y2="1256.40" stroke="#231f20" stroke-width="1.6" stroke-linecap="butt" />
<text x="970.90" y="1263.80" font-size="23.8" fill="#231f20" text-anchor="end">6</text>
<line x1="983.40" y1="1311.70" x2="993.30" y2="1311.70" stroke="#231f20" stroke-width="1.6" stroke-linecap="butt" />
<text x="970.90" y="1319.10" font-size="23.8" fill="#231f20" text-anchor="end">4</text>
<line x1="983.40" y1="1367.00" x2="993.30" y2="1367.00" stroke="#231f20" stroke-width="1.6" stroke-linecap="butt" />
<text x="970.90" y="1374.40" font-size="23.8" fill="#231f20" text-anchor="end">2</text>
<line x1="983.40" y1="1422.30" x2="993.30" y2="1422.30" stroke="#231f20" stroke-width="1.6" stroke-linecap="butt" />
<text x="970.90" y="1429.70" font-size="23.8" fill="#231f20" text-anchor="end">0</text>
<line x1="983.40" y1="1422.30" x2="1269.60" y2="1422.30" stroke="#231f20" stroke-width="1.6" stroke-linecap="butt" />
<line x1="1062.50" y1="1422.30" x2="1062.50" y2="1432.30" stroke="#231f20" stroke-width="1.6" stroke-linecap="butt" />
<line x1="1200.40" y1="1422.30" x2="1200.40" y2="1432.30" stroke="#231f20" stroke-width="1.6" stroke-linecap="butt" />
<line x1="1062.50" y1="1342.40" x2="1200.40" y2="1265.60" stroke="#231f20" stroke-width="5.6" stroke-linecap="butt" />
<line x1="1062.50" y1="1322.70" x2="1200.40" y2="1209.10" stroke="#ec1e79" stroke-width="5.6" stroke-linecap="butt" />
<line x1="1062.50" y1="1314.00" x2="1062.50" y2="1333.70" stroke="#231f20" stroke-width="1.5" stroke-linecap="butt" />
<line x1="1058.10" y1="1314.00" x2="1066.90" y2="1314.00" stroke="#231f20" stroke-width="1.5" stroke-linecap="butt" />
<line x1="1058.10" y1="1333.70" x2="1066.90" y2="1333.70" stroke="#231f20" stroke-width="1.5" stroke-linecap="butt" />
<line x1="1062.50" y1="1336.00" x2="1062.50" y2="1348.50" stroke="#231f20" stroke-width="1.5" stroke-linecap="butt" />
<line x1="1058.10" y1="1336.00" x2="1066.90" y2="1336.00" stroke="#231f20" stroke-width="1.5" stroke-linecap="butt" />
<line x1="1058.10" y1="1348.50" x2="1066.90" y2="1348.50" stroke="#231f20" stroke-width="1.5" stroke-linecap="butt" />
<line x1="1200.40" y1="1200.70" x2="1200.40" y2="1217.20" stroke="#231f20" stroke-width="1.5" stroke-linecap="butt" />
<line x1="1196.00" y1="1200.70" x2="1204.80" y2="1200.70" stroke="#231f20" stroke-width="1.5" stroke-linecap="butt" />
<line x1="1196.00" y1="1217.20" x2="1204.80" y2="1217.20" stroke="#231f20" stroke-width="1.5" stroke-linecap="butt" />
<line x1="1200.40" y1="1252.60" x2="1200.40" y2="1278.10" stroke="#231f20" stroke-width="1.5" stroke-linecap="butt" />
<line x1="1196.00" y1="1252.60" x2="1204.80" y2="1252.60" stroke="#231f20" stroke-width="1.5" stroke-linecap="butt" />
<line x1="1196.00" y1="1278.10" x2="1204.80" y2="1278.10" stroke="#231f20" stroke-width="1.5" stroke-linecap="butt" />
<polygon points="1059.22,1319.00 1065.78,1319.00 1062.50,1325.50" fill="#fff" stroke="#231f20" stroke-width="1.5" stroke-linejoin="miter"/>
<circle cx="1062.50" cy="1342.20" r="3.7" fill="#fff" stroke="#231f20" stroke-width="1.5"/>
<polygon points="1197.12,1205.10 1203.68,1205.10 1200.40,1211.60" fill="#fff" stroke="#231f20" stroke-width="1.5" stroke-linejoin="miter"/>
<circle cx="1200.40" cy="1265.60" r="3.7" fill="#fff" stroke="#231f20" stroke-width="1.5"/>
<text x="1200.95" y="1156.40" font-size="23.5" fill="#231f20" text-anchor="middle" letter-spacing="1.1" stroke="#231f20" stroke-width="0.35">##</text>
<text x="1201.50" y="1201.69" font-size="33.5" fill="#231f20" text-anchor="middle" letter-spacing="2.2">**</text>
<text x="1197.75" y="1300.40" font-size="23.5" fill="#231f20" text-anchor="middle" letter-spacing="1.1" stroke="#231f20" stroke-width="0.35">##</text>
<text x="1063.00" y="1463.50" font-size="26.6" fill="#231f20" text-anchor="middle" textLength="40.5" lengthAdjust="spacingAndGlyphs">Pre</text>
<text x="1201.00" y="1463.50" font-size="26.6" fill="#231f20" text-anchor="middle" textLength="53.5" lengthAdjust="spacingAndGlyphs">Post</text>
<text x="924.90" y="1284.20" font-size="26" fill="#231f20" text-anchor="middle" transform="rotate(-90 924.90 1284.20)" textLength="258.0" lengthAdjust="spacingAndGlyphs">Plasma lactate (mM)</text>
<text transform="translate(1287.27 1048.40) scale(1.510 1)" font-size="38" font-weight="bold" fill="#231f20" stroke="#231f20" stroke-width="0.9">i</text>
<line x1="1391.40" y1="1150.10" x2="1391.40" y2="1423.10" stroke="#231f20" stroke-width="1.6" stroke-linecap="butt" />
<line x1="1381.50" y1="1150.90" x2="1391.40" y2="1150.90" stroke="#231f20" stroke-width="1.6" stroke-linecap="butt" />
<text x="1369.60" y="1158.30" font-size="23.8" fill="#231f20" text-anchor="end" letter-spacing="0.6">0.4</text>
<line x1="1381.50" y1="1218.70" x2="1391.40" y2="1218.70" stroke="#231f20" stroke-width="1.6" stroke-linecap="butt" />
<text x="1369.60" y="1226.10" font-size="23.8" fill="#231f20" text-anchor="end" letter-spacing="0.6">0.3</text>
<line x1="1381.50" y1="1286.80" x2="1391.40" y2="1286.80" stroke="#231f20" stroke-width="1.6" stroke-linecap="butt" />
<text x="1369.60" y="1294.20" font-size="23.8" fill="#231f20" text-anchor="end" letter-spacing="0.6">0.2</text>
<line x1="1381.50" y1="1354.30" x2="1391.40" y2="1354.30" stroke="#231f20" stroke-width="1.6" stroke-linecap="butt" />
<text x="1369.60" y="1361.70" font-size="23.8" fill="#231f20" text-anchor="end" letter-spacing="0.6">0.1</text>
<line x1="1381.50" y1="1422.30" x2="1391.40" y2="1422.30" stroke="#231f20" stroke-width="1.6" stroke-linecap="butt" />
<text x="1369.00" y="1429.70" font-size="23.8" fill="#231f20" text-anchor="end">0</text>
<line x1="1381.50" y1="1422.30" x2="1663.10" y2="1422.30" stroke="#231f20" stroke-width="1.6" stroke-linecap="butt" />
<line x1="1459.50" y1="1422.30" x2="1459.50" y2="1432.30" stroke="#231f20" stroke-width="1.6" stroke-linecap="butt" />
<line x1="1595.00" y1="1422.30" x2="1595.00" y2="1432.30" stroke="#231f20" stroke-width="1.6" stroke-linecap="butt" />
<line x1="1459.50" y1="1262.70" x2="1595.00" y2="1273.70" stroke="#ec1e79" stroke-width="5.6" stroke-linecap="butt" />
<line x1="1459.50" y1="1264.70" x2="1595.00" y2="1263.30" stroke="#231f20" stroke-width="5.6" stroke-linecap="butt" />
<line x1="1459.50" y1="1250.50" x2="1459.50" y2="1276.60" stroke="#231f20" stroke-width="1.5" stroke-linecap="butt" />
<line x1="1455.10" y1="1250.50" x2="1463.90" y2="1250.50" stroke="#231f20" stroke-width="1.5" stroke-linecap="butt" />
<line x1="1455.10" y1="1276.60" x2="1463.90" y2="1276.60" stroke="#231f20" stroke-width="1.5" stroke-linecap="butt" />
<line x1="1459.50" y1="1252.50" x2="1459.50" y2="1275.00" stroke="#231f20" stroke-width="1.5" stroke-linecap="butt" />
<line x1="1455.10" y1="1252.50" x2="1463.90" y2="1252.50" stroke="#231f20" stroke-width="1.5" stroke-linecap="butt" />
<line x1="1455.10" y1="1275.00" x2="1463.90" y2="1275.00" stroke="#231f20" stroke-width="1.5" stroke-linecap="butt" />
<line x1="1595.00" y1="1249.10" x2="1595.00" y2="1277.20" stroke="#231f20" stroke-width="1.5" stroke-linecap="butt" />
<line x1="1590.60" y1="1249.10" x2="1599.40" y2="1249.10" stroke="#231f20" stroke-width="1.5" stroke-linecap="butt" />
<line x1="1590.60" y1="1277.20" x2="1599.40" y2="1277.20" stroke="#231f20" stroke-width="1.5" stroke-linecap="butt" />
<line x1="1595.00" y1="1264.20" x2="1595.00" y2="1283.00" stroke="#231f20" stroke-width="1.5" stroke-linecap="butt" />
<line x1="1590.60" y1="1264.20" x2="1599.40" y2="1264.20" stroke="#231f20" stroke-width="1.5" stroke-linecap="butt" />
<line x1="1590.60" y1="1283.00" x2="1599.40" y2="1283.00" stroke="#231f20" stroke-width="1.5" stroke-linecap="butt" />
<polygon points="1456.22,1257.80 1462.78,1257.80 1459.50,1264.30" fill="#fff" stroke="#231f20" stroke-width="1.5" stroke-linejoin="miter"/>
<circle cx="1459.50" cy="1264.70" r="3.7" fill="#fff" stroke="#231f20" stroke-width="1.5"/>
<polygon points="1591.72,1269.80 1598.28,1269.80 1595.00,1276.30" fill="#fff" stroke="#231f20" stroke-width="1.5" stroke-linejoin="miter"/>
<circle cx="1595.00" cy="1263.30" r="3.7" fill="#fff" stroke="#231f20" stroke-width="1.5"/>
<text x="1460.00" y="1463.50" font-size="26.6" fill="#231f20" text-anchor="middle" textLength="40.5" lengthAdjust="spacingAndGlyphs">Pre</text>
<text x="1595.50" y="1463.50" font-size="26.6" fill="#231f20" text-anchor="middle" textLength="53.5" lengthAdjust="spacingAndGlyphs">Post</text>
<text x="1311.60" y="1282.70" font-size="26" fill="#231f20" text-anchor="middle" transform="rotate(-90 1311.60 1282.70)" textLength="274.0" lengthAdjust="spacingAndGlyphs">Plasma glycerol (mM)</text>
<text x="36.80" y="1597.10" font-size="26.3" fill="#231f20" textLength="283.0" lengthAdjust="spacingAndGlyphs">Low-intensity exercise</text>
<text transform="translate(-1.19 1645.50) scale(1.429 1)" font-size="38" font-weight="bold" fill="#231f20" stroke="#231f20" stroke-width="0.9">j</text>
<line x1="142.50" y1="1668.50" x2="142.50" y2="2021.10" stroke="#231f20" stroke-width="1.6" stroke-linecap="butt" />
<line x1="133.80" y1="1669.30" x2="142.50" y2="1669.30" stroke="#231f20" stroke-width="1.6" stroke-linecap="butt" />
<text x="121.60" y="1676.70" font-size="23.8" fill="#231f20" text-anchor="end" textLength="44.5" lengthAdjust="spacingAndGlyphs">600</text>
<line x1="133.80" y1="1786.30" x2="142.50" y2="1786.30" stroke="#231f20" stroke-width="1.6" stroke-linecap="butt" />
<text x="121.60" y="1793.70" font-size="23.8" fill="#231f20" text-anchor="end" textLength="44.5" lengthAdjust="spacingAndGlyphs">400</text>
<line x1="133.80" y1="1903.30" x2="142.50" y2="1903.30" stroke="#231f20" stroke-width="1.6" stroke-linecap="butt" />
<text x="121.60" y="1910.70" font-size="23.8" fill="#231f20" text-anchor="end" textLength="44.5" lengthAdjust="spacingAndGlyphs">200</text>
<line x1="133.80" y1="2020.30" x2="142.50" y2="2020.30" stroke="#231f20" stroke-width="1.6" stroke-linecap="butt" />
<text x="121.30" y="2027.70" font-size="23.8" fill="#231f20" text-anchor="end">0</text>
<line x1="133.80" y1="2020.30" x2="423.80" y2="2020.30" stroke="#231f20" stroke-width="1.6" stroke-linecap="butt" />
<line x1="222.50" y1="2020.30" x2="222.50" y2="2029.10" stroke="#231f20" stroke-width="1.6" stroke-linecap="butt" />
<line x1="343.30" y1="2020.30" x2="343.30" y2="2029.10" stroke="#231f20" stroke-width="1.6" stroke-linecap="butt" />
<rect x="183.70" y="1798.90" width="77.80" height="221.40" fill="#fff" stroke="#231f20" stroke-width="1.5"/>
<rect x="304.30" y="1880.50" width="78.30" height="139.80" fill="#7dd2f7" stroke="#231f20" stroke-width="1.5"/>
<line x1="222.50" y1="1770.90" x2="222.50" y2="1824.50" stroke="#231f20" stroke-width="1.5" stroke-linecap="butt" />
<line x1="202.50" y1="1770.90" x2="242.50" y2="1770.90" stroke="#231f20" stroke-width="1.5" stroke-linecap="butt" />
<line x1="202.50" y1="1824.50" x2="242.50" y2="1824.50" stroke="#231f20" stroke-width="1.5" stroke-linecap="butt" />
<line x1="343.30" y1="1862.90" x2="343.30" y2="1896.40" stroke="#231f20" stroke-width="1.5" stroke-linecap="butt" />
<line x1="323.30" y1="1862.90" x2="363.30" y2="1862.90" stroke="#231f20" stroke-width="1.5" stroke-linecap="butt" />
<line x1="323.30" y1="1896.40" x2="363.30" y2="1896.40" stroke="#231f20" stroke-width="1.5" stroke-linecap="butt" />
<circle cx="222.50" cy="1689.40" r="3.4" fill="#fff" stroke="#231f20" stroke-width="1.5"/>
<circle cx="222.50" cy="1715.50" r="3.4" fill="#fff" stroke="#231f20" stroke-width="1.5"/>
<circle cx="222.50" cy="1761.90" r="3.4" fill="#fff" stroke="#231f20" stroke-width="1.5"/>
<circle cx="222.50" cy="1783.60" r="3.4" fill="#fff" stroke="#231f20" stroke-width="1.5"/>
<circle cx="222.50" cy="1799.50" r="3.4" fill="#fff" stroke="#231f20" stroke-width="1.5"/>
<circle cx="222.50" cy="1858.00" r="3.4" fill="#fff" stroke="#231f20" stroke-width="1.5"/>
<circle cx="222.50" cy="1875.80" r="3.4" fill="#fff" stroke="#231f20" stroke-width="1.5"/>
<circle cx="222.50" cy="1899.70" r="3.4" fill="#fff" stroke="#231f20" stroke-width="1.5"/>
<polygon points="340.10,1794.52 346.50,1794.52 343.30,1788.18" fill="#fff" stroke="#231f20" stroke-width="1.25" stroke-linejoin="miter"/>
<polygon points="325.80,1812.92 332.20,1812.92 329.00,1806.58" fill="#fff" stroke="#231f20" stroke-width="1.25" stroke-linejoin="miter"/>
<polygon points="340.10,1813.52 346.50,1813.52 343.30,1807.18" fill="#fff" stroke="#231f20" stroke-width="1.25" stroke-linejoin="miter"/>
<polygon points="340.10,1847.52 346.50,1847.52 343.30,1841.18" fill="#fff" stroke="#231f20" stroke-width="1.25" stroke-linejoin="miter"/>
<polygon points="325.80,1859.62 332.20,1859.62 329.00,1853.28" fill="#fff" stroke="#231f20" stroke-width="1.25" stroke-linejoin="miter"/>
<polygon points="340.10,1866.52 346.50,1866.52 343.30,1860.18" fill="#fff" stroke="#231f20" stroke-width="1.25" stroke-linejoin="miter"/>
<polygon points="340.10,1898.62 346.50,1898.62 343.30,1892.28" fill="#fff" stroke="#231f20" stroke-width="1.25" stroke-linejoin="miter"/>
<polygon points="340.10,1913.22 346.50,1913.22 343.30,1906.88" fill="#fff" stroke="#231f20" stroke-width="1.25" stroke-linejoin="miter"/>
<polygon points="340.10,1936.02 346.50,1936.02 343.30,1929.68" fill="#fff" stroke="#231f20" stroke-width="1.25" stroke-linejoin="miter"/>
<polygon points="340.10,1947.02 346.50,1947.02 343.30,1940.68" fill="#fff" stroke="#231f20" stroke-width="1.25" stroke-linejoin="miter"/>
<polygon points="326.40,1953.52 332.80,1953.52 329.60,1947.18" fill="#fff" stroke="#231f20" stroke-width="1.25" stroke-linejoin="miter"/>
<polygon points="353.80,1951.12 360.20,1951.12 357.00,1944.78" fill="#fff" stroke="#231f20" stroke-width="1.25" stroke-linejoin="miter"/>
<path d="M222.5,1675.4V1661.6H343.3V1675.4" fill="none" stroke="#231f20" stroke-width="1.7"/>
<text x="283.20" y="1667.79" font-size="33.5" fill="#231f20" text-anchor="middle">*</text>
<text x="56.30" y="1844.20" font-size="26" fill="#231f20" text-anchor="middle" transform="rotate(-90 56.30 1844.20)" textLength="346.0" lengthAdjust="spacingAndGlyphs">Time until exhaustion (min)</text>
<text x="228.60" y="2053.40" font-size="28" fill="#231f20" text-anchor="end" transform="rotate(-45 228.60 2053.40)" textLength="96.0" lengthAdjust="spacingAndGlyphs">Control</text>
<text x="352.00" y="2051.70" font-size="28" fill="#231f20" text-anchor="end" transform="rotate(-45 352.00 2051.70)" textLength="110.0" lengthAdjust="spacingAndGlyphs">L-GykKO</text>
<text x="1013.20" y="1597.10" font-size="26.3" fill="#231f20" text-anchor="middle" textLength="428.0" lengthAdjust="spacingAndGlyphs">High-intensity exercise for 60 min</text>
<text transform="translate(472.73 1647.50) scale(1.120 1)" font-size="38" font-weight="bold" fill="#231f20" stroke="#231f20" stroke-width="0.9">k</text>
<line x1="643.80" y1="1670.80" x2="678.60" y2="1670.80" stroke="#231f20" stroke-width="7.5" stroke-linecap="round" />
<circle cx="661.00" cy="1670.80" r="4.75" fill="#fff" stroke="#231f20" stroke-width="1.8"/>
<text x="695.80" y="1679.60" font-size="28" fill="#231f20" textLength="96.5" lengthAdjust="spacingAndGlyphs">Control</text>
<line x1="643.60" y1="1717.80" x2="678.80" y2="1717.80" stroke="#74cff5" stroke-width="7.0" stroke-linecap="round" />
<polygon points="656.55,1722.66 665.45,1722.66 661.00,1713.84" fill="#fff" stroke="#231f20" stroke-width="1.7" stroke-linejoin="miter"/>
<text x="696.40" y="1727.00" font-size="28" fill="#231f20" textLength="110.5" lengthAdjust="spacingAndGlyphs">L-GykKO</text>
<line x1="580.70" y1="1760.50" x2="580.70" y2="2021.10" stroke="#231f20" stroke-width="1.6" stroke-linecap="butt" />
<line x1="571.70" y1="1761.30" x2="580.70" y2="1761.30" stroke="#231f20" stroke-width="1.6" stroke-linecap="butt" />
<text x="559.50" y="1768.70" font-size="23.8" fill="#231f20" text-anchor="end" textLength="44.5" lengthAdjust="spacingAndGlyphs">100</text>
<line x1="571.70" y1="1813.00" x2="580.70" y2="1813.00" stroke="#231f20" stroke-width="1.6" stroke-linecap="butt" />
<text x="559.50" y="1820.40" font-size="23.8" fill="#231f20" text-anchor="end" textLength="29.6" lengthAdjust="spacingAndGlyphs">80</text>
<line x1="571.70" y1="1864.90" x2="580.70" y2="1864.90" stroke="#231f20" stroke-width="1.6" stroke-linecap="butt" />
<text x="559.50" y="1872.30" font-size="23.8" fill="#231f20" text-anchor="end" textLength="29.6" lengthAdjust="spacingAndGlyphs">60</text>
<line x1="571.70" y1="1916.50" x2="580.70" y2="1916.50" stroke="#231f20" stroke-width="1.6" stroke-linecap="butt" />
<text x="559.50" y="1923.90" font-size="23.8" fill="#231f20" text-anchor="end" textLength="29.6" lengthAdjust="spacingAndGlyphs">40</text>
<line x1="571.70" y1="1968.40" x2="580.70" y2="1968.40" stroke="#231f20" stroke-width="1.6" stroke-linecap="butt" />
<text x="559.50" y="1975.80" font-size="23.8" fill="#231f20" text-anchor="end" textLength="29.6" lengthAdjust="spacingAndGlyphs">20</text>
<line x1="571.70" y1="2020.30" x2="580.70" y2="2020.30" stroke="#231f20" stroke-width="1.6" stroke-linecap="butt" />
<text x="559.20" y="2027.70" font-size="23.8" fill="#231f20" text-anchor="end">0</text>
<line x1="571.70" y1="2020.30" x2="840.30" y2="2020.30" stroke="#231f20" stroke-width="1.6" stroke-linecap="butt" />
<line x1="645.60" y1="2020.30" x2="645.60" y2="2029.80" stroke="#231f20" stroke-width="1.6" stroke-linecap="butt" />
<line x1="775.70" y1="2020.30" x2="775.70" y2="2029.80" stroke="#231f20" stroke-width="1.6" stroke-linecap="butt" />
<line x1="645.60" y1="1813.20" x2="775.70" y2="1842.10" stroke="#74cff5" stroke-width="5.6" stroke-linecap="butt" />
<line x1="645.60" y1="1802.20" x2="775.70" y2="1810.50" stroke="#231f20" stroke-width="5.6" stroke-linecap="butt" />
<line x1="645.60" y1="1792.60" x2="645.60" y2="1811.80" stroke="#231f20" stroke-width="1.5" stroke-linecap="butt" />
<line x1="641.20" y1="1792.60" x2="650.00" y2="1792.60" stroke="#231f20" stroke-width="1.5" stroke-linecap="butt" />
<line x1="641.20" y1="1811.80" x2="650.00" y2="1811.80" stroke="#231f20" stroke-width="1.5" stroke-linecap="butt" />
<line x1="645.60" y1="1804.40" x2="645.60" y2="1822.30" stroke="#231f20" stroke-width="1.5" stroke-linecap="butt" />
<line x1="641.20" y1="1804.40" x2="650.00" y2="1804.40" stroke="#231f20" stroke-width="1.5" stroke-linecap="butt" />
<line x1="641.20" y1="1822.30" x2="650.00" y2="1822.30" stroke="#231f20" stroke-width="1.5" stroke-linecap="butt" />
<line x1="775.70" y1="1801.70" x2="775.70" y2="1818.20" stroke="#231f20" stroke-width="1.5" stroke-linecap="butt" />
<line x1="771.30" y1="1801.70" x2="780.10" y2="1801.70" stroke="#231f20" stroke-width="1.5" stroke-linecap="butt" />
<line x1="771.30" y1="1818.20" x2="780.10" y2="1818.20" stroke="#231f20" stroke-width="1.5" stroke-linecap="butt" />
<line x1="775.70" y1="1833.80" x2="775.70" y2="1849.80" stroke="#231f20" stroke-width="1.5" stroke-linecap="butt" />
<line x1="771.30" y1="1833.80" x2="780.10" y2="1833.80" stroke="#231f20" stroke-width="1.5" stroke-linecap="butt" />
<line x1="771.30" y1="1849.80" x2="780.10" y2="1849.80" stroke="#231f20" stroke-width="1.5" stroke-linecap="butt" />
<polygon points="642.32,1817.20 648.88,1817.20 645.60,1810.70" fill="#fff" stroke="#231f20" stroke-width="1.5" stroke-linejoin="miter"/>
<circle cx="645.60" cy="1802.20" r="3.7" fill="#fff" stroke="#231f20" stroke-width="1.5"/>
<circle cx="775.70" cy="1810.50" r="3.7" fill="#fff" stroke="#231f20" stroke-width="1.5"/>
<polygon points="772.42,1846.00 778.98,1846.00 775.70,1839.50" fill="#fff" stroke="#231f20" stroke-width="1.5" stroke-linejoin="miter"/>
<text x="776.00" y="1881.19" font-size="33.5" fill="#231f20" text-anchor="middle" letter-spacing="2.2">**</text>
<text x="775.45" y="1904.10" font-size="23.5" fill="#231f20" text-anchor="middle" letter-spacing="1.1" stroke="#231f20" stroke-width="0.35">##</text>
<text x="648.00" y="2061.20" font-size="26.6" fill="#231f20" text-anchor="middle" textLength="40.5" lengthAdjust="spacingAndGlyphs">Pre</text>
<text x="781.50" y="2061.20" font-size="26.6" fill="#231f20" text-anchor="middle" textLength="53.5" lengthAdjust="spacingAndGlyphs">Post</text>
<text x="497.20" y="1890.20" font-size="26" fill="#231f20" text-anchor="middle" transform="rotate(-90 497.20 1890.20)" textLength="297.0" lengthAdjust="spacingAndGlyphs">Blood glucose (mg dl<tspan font-size="15" dy="-13.1" dx="1">–</tspan><tspan font-size="18.5" dy="1.2">1</tspan><tspan dy="11.9">)</tspan></text>
<text transform="translate(908.30 1647.90) scale(1.686 1)" font-size="38" font-weight="bold" fill="#231f20" stroke="#231f20" stroke-width="0.9">l</text>
<line x1="993.40" y1="1745.70" x2="993.40" y2="2021.10" stroke="#231f20" stroke-width="1.6" stroke-linecap="butt" />
<line x1="983.80" y1="1746.50" x2="993.40" y2="1746.50" stroke="#231f20" stroke-width="1.6" stroke-linecap="butt" />
<text x="971.30" y="1753.90" font-size="23.8" fill="#231f20" text-anchor="end">4</text>
<line x1="983.80" y1="1814.90" x2="993.40" y2="1814.90" stroke="#231f20" stroke-width="1.6" stroke-linecap="butt" />
<text x="971.30" y="1822.30" font-size="23.8" fill="#231f20" text-anchor="end">3</text>
<line x1="983.80" y1="1883.30" x2="993.40" y2="1883.30" stroke="#231f20" stroke-width="1.6" stroke-linecap="butt" />
<text x="971.30" y="1890.70" font-size="23.8" fill="#231f20" text-anchor="end">2</text>
<line x1="983.80" y1="1951.90" x2="993.40" y2="1951.90" stroke="#231f20" stroke-width="1.6" stroke-linecap="butt" />
<text x="971.30" y="1959.30" font-size="23.8" fill="#231f20" text-anchor="end">1</text>
<line x1="983.80" y1="2020.30" x2="993.40" y2="2020.30" stroke="#231f20" stroke-width="1.6" stroke-linecap="butt" />
<text x="971.30" y="2027.70" font-size="23.8" fill="#231f20" text-anchor="end">0</text>
<line x1="983.80" y1="2020.30" x2="1267.80" y2="2020.30" stroke="#231f20" stroke-width="1.6" stroke-linecap="butt" />
<line x1="1062.10" y1="2020.30" x2="1062.10" y2="2029.80" stroke="#231f20" stroke-width="1.6" stroke-linecap="butt" />
<line x1="1199.10" y1="2020.30" x2="1199.10" y2="2029.80" stroke="#231f20" stroke-width="1.6" stroke-linecap="butt" />
<line x1="1062.10" y1="1821.70" x2="1199.10" y2="1823.70" stroke="#74cff5" stroke-width="5.6" stroke-linecap="butt" />
<line x1="1062.10" y1="1819.00" x2="1199.10" y2="1811.90" stroke="#231f20" stroke-width="5.6" stroke-linecap="butt" />
<line x1="1062.10" y1="1805.80" x2="1062.10" y2="1834.00" stroke="#231f20" stroke-width="1.5" stroke-linecap="butt" />
<line x1="1057.70" y1="1805.80" x2="1066.50" y2="1805.80" stroke="#231f20" stroke-width="1.5" stroke-linecap="butt" />
<line x1="1057.70" y1="1834.00" x2="1066.50" y2="1834.00" stroke="#231f20" stroke-width="1.5" stroke-linecap="butt" />
<line x1="1062.10" y1="1808.00" x2="1062.10" y2="1836.00" stroke="#231f20" stroke-width="1.5" stroke-linecap="butt" />
<line x1="1057.70" y1="1808.00" x2="1066.50" y2="1808.00" stroke="#231f20" stroke-width="1.5" stroke-linecap="butt" />
<line x1="1057.70" y1="1836.00" x2="1066.50" y2="1836.00" stroke="#231f20" stroke-width="1.5" stroke-linecap="butt" />
<line x1="1199.10" y1="1799.00" x2="1199.10" y2="1824.80" stroke="#231f20" stroke-width="1.5" stroke-linecap="butt" />
<line x1="1194.70" y1="1799.00" x2="1203.50" y2="1799.00" stroke="#231f20" stroke-width="1.5" stroke-linecap="butt" />
<line x1="1194.70" y1="1824.80" x2="1203.50" y2="1824.80" stroke="#231f20" stroke-width="1.5" stroke-linecap="butt" />
<line x1="1199.10" y1="1810.50" x2="1199.10" y2="1836.90" stroke="#231f20" stroke-width="1.5" stroke-linecap="butt" />
<line x1="1194.70" y1="1810.50" x2="1203.50" y2="1810.50" stroke="#231f20" stroke-width="1.5" stroke-linecap="butt" />
<line x1="1194.70" y1="1836.90" x2="1203.50" y2="1836.90" stroke="#231f20" stroke-width="1.5" stroke-linecap="butt" />
<polygon points="1058.82,1825.70 1065.38,1825.70 1062.10,1819.20" fill="#fff" stroke="#231f20" stroke-width="1.5" stroke-linejoin="miter"/>
<circle cx="1062.10" cy="1819.00" r="3.7" fill="#fff" stroke="#231f20" stroke-width="1.5"/>
<polygon points="1195.82,1827.70 1202.38,1827.70 1199.10,1821.20" fill="#231f20" stroke="#231f20" stroke-width="1.5" stroke-linejoin="miter"/>
<circle cx="1199.10" cy="1811.90" r="3.7" fill="#fff" stroke="#231f20" stroke-width="1.5"/>
<text x="1063.00" y="2061.20" font-size="26.6" fill="#231f20" text-anchor="middle" textLength="40.5" lengthAdjust="spacingAndGlyphs">Pre</text>
<text x="1201.30" y="2061.20" font-size="26.6" fill="#231f20" text-anchor="middle" textLength="53.5" lengthAdjust="spacingAndGlyphs">Post</text>
<text x="934.40" y="1883.80" font-size="26" fill="#231f20" text-anchor="middle" transform="rotate(-90 934.40 1883.80)" textLength="256.0" lengthAdjust="spacingAndGlyphs">Plasma lactate (mM)</text>
<text transform="translate(1288.22 1647.90) scale(1.195 1)" font-size="36" font-weight="bold" fill="#231f20" stroke="#231f20" stroke-width="0.9">m</text>
<line x1="1391.40" y1="1751.50" x2="1391.40" y2="2021.10" stroke="#231f20" stroke-width="1.6" stroke-linecap="butt" />
<line x1="1381.50" y1="1752.30" x2="1391.40" y2="1752.30" stroke="#231f20" stroke-width="1.6" stroke-linecap="butt" />
<text x="1369.60" y="1759.70" font-size="23.8" fill="#231f20" text-anchor="end" letter-spacing="0.6">1.5</text>
<line x1="1381.50" y1="1841.50" x2="1391.40" y2="1841.50" stroke="#231f20" stroke-width="1.6" stroke-linecap="butt" />
<text x="1369.60" y="1848.90" font-size="23.8" fill="#231f20" text-anchor="end" letter-spacing="0.6">1.0</text>
<line x1="1381.50" y1="1931.10" x2="1391.40" y2="1931.10" stroke="#231f20" stroke-width="1.6" stroke-linecap="butt" />
<text x="1369.60" y="1938.50" font-size="23.8" fill="#231f20" text-anchor="end" letter-spacing="0.6">0.5</text>
<line x1="1381.50" y1="2020.30" x2="1391.40" y2="2020.30" stroke="#231f20" stroke-width="1.6" stroke-linecap="butt" />
<text x="1369.00" y="2027.70" font-size="23.8" fill="#231f20" text-anchor="end">0</text>
<line x1="1381.50" y1="2020.30" x2="1660.00" y2="2020.30" stroke="#231f20" stroke-width="1.6" stroke-linecap="butt" />
<line x1="1458.40" y1="2020.30" x2="1458.40" y2="2029.80" stroke="#231f20" stroke-width="1.6" stroke-linecap="butt" />
<line x1="1593.00" y1="2020.30" x2="1593.00" y2="2029.80" stroke="#231f20" stroke-width="1.6" stroke-linecap="butt" />
<line x1="1458.40" y1="1962.40" x2="1593.00" y2="1841.80" stroke="#74cff5" stroke-width="5.6" stroke-linecap="butt" />
<line x1="1458.40" y1="1974.20" x2="1593.00" y2="1931.30" stroke="#231f20" stroke-width="5.6" stroke-linecap="butt" />
<line x1="1458.40" y1="1956.30" x2="1458.40" y2="1968.40" stroke="#231f20" stroke-width="1.5" stroke-linecap="butt" />
<line x1="1454.00" y1="1956.30" x2="1462.80" y2="1956.30" stroke="#231f20" stroke-width="1.5" stroke-linecap="butt" />
<line x1="1454.00" y1="1968.40" x2="1462.80" y2="1968.40" stroke="#231f20" stroke-width="1.5" stroke-linecap="butt" />
<line x1="1458.40" y1="1969.20" x2="1458.40" y2="1979.40" stroke="#231f20" stroke-width="1.5" stroke-linecap="butt" />
<line x1="1454.00" y1="1969.20" x2="1462.80" y2="1969.20" stroke="#231f20" stroke-width="1.5" stroke-linecap="butt" />
<line x1="1454.00" y1="1979.40" x2="1462.80" y2="1979.40" stroke="#231f20" stroke-width="1.5" stroke-linecap="butt" />
<line x1="1593.00" y1="1823.70" x2="1593.00" y2="1858.80" stroke="#231f20" stroke-width="1.5" stroke-linecap="butt" />
<line x1="1588.60" y1="1823.70" x2="1597.40" y2="1823.70" stroke="#231f20" stroke-width="1.5" stroke-linecap="butt" />
<line x1="1588.60" y1="1858.80" x2="1597.40" y2="1858.80" stroke="#231f20" stroke-width="1.5" stroke-linecap="butt" />
<line x1="1593.00" y1="1921.40" x2="1593.00" y2="1941.20" stroke="#231f20" stroke-width="1.5" stroke-linecap="butt" />
<line x1="1588.60" y1="1921.40" x2="1597.40" y2="1921.40" stroke="#231f20" stroke-width="1.5" stroke-linecap="butt" />
<line x1="1588.60" y1="1941.20" x2="1597.40" y2="1941.20" stroke="#231f20" stroke-width="1.5" stroke-linecap="butt" />
<polygon points="1455.12,1966.50 1461.68,1966.50 1458.40,1960.00" fill="#fff" stroke="#231f20" stroke-width="1.5" stroke-linejoin="miter"/>
<circle cx="1458.40" cy="1974.20" r="3.7" fill="#fff" stroke="#231f20" stroke-width="1.5"/>
<polygon points="1589.72,1845.70 1596.28,1845.70 1593.00,1839.20" fill="#fff" stroke="#231f20" stroke-width="1.5" stroke-linejoin="miter"/>
<circle cx="1593.00" cy="1931.30" r="3.7" fill="#fff" stroke="#231f20" stroke-width="1.5"/>
<text x="1594.10" y="1791.39" font-size="33.5" fill="#231f20" text-anchor="middle" letter-spacing="2.2">**</text>
<text x="1592.55" y="1808.60" font-size="23.5" fill="#231f20" text-anchor="middle" letter-spacing="1.1" stroke="#231f20" stroke-width="0.35">##</text>
<text x="1589.40" y="1968.70" font-size="23.5" fill="#231f20" text-anchor="middle" stroke="#231f20" stroke-width="0.35">#</text>
<text x="1460.00" y="2061.20" font-size="26.6" fill="#231f20" text-anchor="middle" textLength="40.5" lengthAdjust="spacingAndGlyphs">Pre</text>
<text x="1595.50" y="2061.20" font-size="26.6" fill="#231f20" text-anchor="middle" textLength="53.5" lengthAdjust="spacingAndGlyphs">Post</text>
<text x="1312.60" y="1885.50" font-size="26" fill="#231f20" text-anchor="middle" transform="rotate(-90 1312.60 1885.50)" textLength="274.0" lengthAdjust="spacingAndGlyphs">Plasma glycerol (mM)</text>
</svg>
</body></html>
